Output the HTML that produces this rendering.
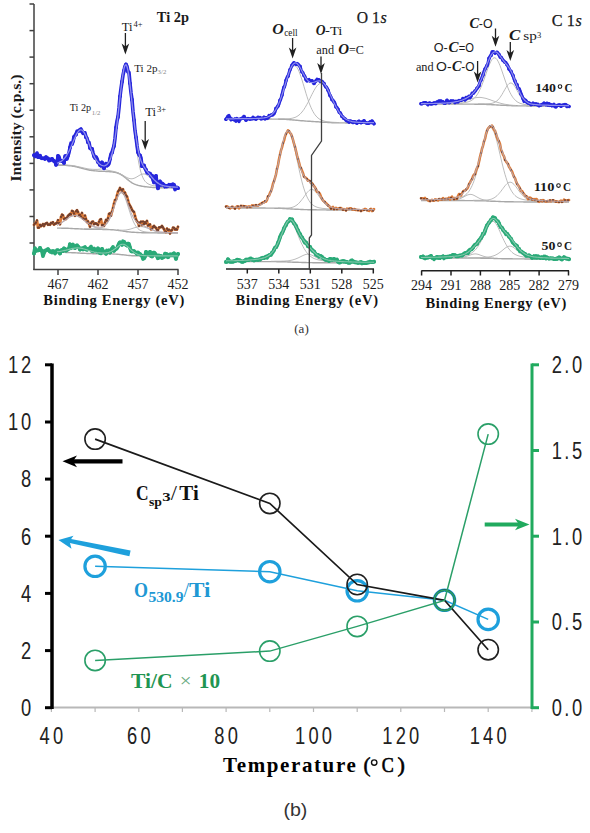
<!DOCTYPE html>
<html><head><meta charset="utf-8"><style>
html,body{margin:0;padding:0;background:#fff;width:590px;height:833px;overflow:hidden}
svg{display:block}

</style></head><body>
<svg width="590" height="833" viewBox="0 0 590 833" font-family="Liberation Serif">
<g stroke="#404040" stroke-width="1.5" fill="none">
<line x1="34" y1="4" x2="34" y2="270"/>
<line x1="29.5" y1="4" x2="34" y2="4"/>
<line x1="29.5" y1="30.6" x2="34" y2="30.6"/>
<line x1="29.5" y1="57.1" x2="34" y2="57.1"/>
<line x1="29.5" y1="83.7" x2="34" y2="83.7"/>
<line x1="29.5" y1="110.2" x2="34" y2="110.2"/>
<line x1="29.5" y1="136.8" x2="34" y2="136.8"/>
<line x1="29.5" y1="163.4" x2="34" y2="163.4"/>
<line x1="29.5" y1="189.9" x2="34" y2="189.9"/>
<line x1="29.5" y1="216.5" x2="34" y2="216.5"/>
<line x1="29.5" y1="243" x2="34" y2="243"/>
<line x1="33.3" y1="269.5" x2="178.5" y2="269.5"/>
<line x1="58" y1="269.5" x2="58" y2="275"/>
<line x1="98" y1="269.5" x2="98" y2="275"/>
<line x1="138" y1="269.5" x2="138" y2="275"/>
<line x1="178" y1="269.5" x2="178" y2="275"/>
</g>
<polyline fill="none" stroke="#a8a8a8" stroke-width="1.4" points="57,165.2 58,165.2 59,165.2 60,165.2 61,165.2 62,165.3 63,165.3 64,165.3 65,165.4 66,165.4 67,165.5 68,165.6 69,165.7 70,165.8 71,165.9 72,166 73,166.2 74,166.3 75,166.5 76,166.7 77,167 78,167.2 79,167.5 80,167.7 81,168 82,168.3 83,168.5 84,168.8 85,169.1 86,169.3 87,169.6 88,169.8 89,170 90,170.2 91,170.3 92,170.5 93,170.6 94,170.7 95,170.9 96,170.9 97,171 98,171.1 99,171.2 100,171.2 101,171.3 102,171.3 103,171.4 104,171.4 105,171.4 106,171.5 107,171.5 108,171.6 109,171.6 110,171.7 111,171.8 112,171.9 113,172 114,172.2 115,172.4 116,172.6 117,172.9 118,173.3 119,173.7 120,174.2 121,174.7 122,175.3 123,176 124,176.7 125,177.5 126,178.3 127,179.1 128,179.9 129,180.7 130,181.5 131,182.1 132,182.8 133,183.4 134,183.9 135,184.3 136,184.7 137,185 138,185.3 139,185.6 140,185.8 141,186 142,186.2 143,186.4 144,186.5 145,186.7 146,186.8 147,186.9 148,187 149,187.1 150,187.2 151,187.3 152,187.4 153,187.5 154,187.5 155,187.6 156,187.6 157,187.7 158,187.7 159,187.8 160,187.8 161,187.8 162,187.8 163,187.9 164,187.9 165,187.9 166,187.9 167,187.9 168,187.9 169,187.9 170,187.9 171,187.9 172,188 173,188 174,188 175,188 176,188 177,188 178,188"/>
<polyline fill="none" stroke="#b4b4b4" stroke-width="0.9" points="57,163.4 58,163.1 59,162.8 60,162.3 61,161.7 62,161 63,160.2 64,159.2 65,158.1 66,156.7 67,155.2 68,153.5 69,151.5 70,149.5 71,147.3 72,145 73,142.6 74,140.3 75,138 76,135.9 77,134 78,132.5 79,131.4 80,130.7 81,130.5 82,130.9 83,131.8 84,133.2 85,135 86,137.2 87,139.6 88,142.2 89,144.9 90,147.6 91,150.3 92,152.8 93,155.2 94,157.5 95,159.5 96,161.3 97,162.9 98,164.3 99,165.5 100,166.5 101,167.4 102,168.1 103,168.6 104,169.1 105,169.5 106,169.8 107,170.1 108,170.3 109,170.5 110,170.7 111,170.9 112,171.1 113,171.3 114,171.5 115,171.7 116,172 117,172.3 118,172.7 119,173.2 120,173.7 121,174.2 122,174.9 123,175.6 124,176.3 125,177.1 126,177.9 127,178.8 128,179.6 129,180.4 130,181.1 131,181.8"/>
<polyline fill="none" stroke="#b4b4b4" stroke-width="0.9" points="57,164.8 58,164.9 59,164.9 60,164.9 61,164.9 62,164.9 63,164.9 64,164.9 65,165 66,165 67,165.1 68,165.1 69,165.2 70,165.3 71,165.4 72,165.5 73,165.7 74,165.8 75,166 76,166.2 77,166.4 78,166.6 79,166.8 80,167 81,167.3 82,167.5 83,167.8 84,168 85,168.2 86,168.4 87,168.6 88,168.8 89,169 90,169.1 91,169.2 92,169.3 93,169.3 94,169.4 95,169.4 96,169.4 97,169.4 98,169.3 99,169.3 100,169.1 101,169 102,168.8 103,168.5 104,168.1 105,167.6 106,167 107,166 108,164.8 109,163.2 110,161 111,158.3 112,154.8 113,150.5 114,145.4 115,139.3 116,132.4 117,124.6 118,116.1 119,107.3 120,98.3 121,89.6 122,81.6 123,74.8 124,69.7 125,66.8 126,66.3 127,68.4 128,72.9 129,79.5 130,87.7 131,97 132,106.9 133,116.9 134,126.7 135,136 136,144.5 137,152 138,158.6 139,164.1 140,168.7 141,172.5 142,175.5 143,177.9 144,179.8 145,181.2 146,182.3 147,183.1 148,183.8 149,184.3 150,184.7 151,185.1 152,185.3 153,185.6 154,185.8 155,185.9 156,186.1 157,186.2 158,186.4 159,186.5 160,186.6 161,186.7 162,186.7 163,186.8 164,186.9 165,187 166,187 167,187.1 168,187.1 169,187.2 170,187.2 171,187.2 172,187.3 173,187.3 174,187.3 175,187.4 176,187.4 177,187.4 178,187.5"/>
<polyline fill="none" stroke="#b4b4b4" stroke-width="0.9" points="118,172.9 119,173.3 120,173.7 121,174.2 122,174.7 123,175.3 124,175.9 125,176.5 126,177 127,177.6 128,178 129,178.4 130,178.6 131,178.8 132,178.8 133,178.6 134,178.3 135,177.9 136,177.4 137,176.8 138,176.2 139,175.6 140,175 141,174.5 142,174.2 143,174 144,173.9 145,174.1 146,174.5 147,175.1 148,175.8 149,176.6 150,177.6 151,178.5 152,179.5 153,180.5 154,181.5 155,182.4 156,183.2 157,183.9 158,184.6 159,185.2 160,185.7 161,186.1 162,186.4 163,186.7 164,186.9 165,187.1 166,187.2 167,187.4 168,187.4 169,187.5 170,187.6 171,187.6"/>
<polyline fill="none" stroke="#2626dc" stroke-width="3.6" stroke-linejoin="round" stroke-linecap="round" points="34,155.2 35,156.5 36,155.3 37,153 38,157.1 39,157.1 40,155.7 41,157.9 42,158.3 43,158.3 44,158.3 45,159.1 46,157.2 47,158.1 48,158.5 49,160.7 50,160.3 51,159.4 52,158.8 53,160.1 54,161 55,161.5 56,164.8 57,163.4 58,155.9 59,156.7 60,160.5 61,160.5 62,161 63,161.3 64,162.9 65,156.1 66,155.9 67,159.1 68,155.6 69,152.5 70,147.5 71,143.1 72,144.1 73,141.8 74,136.9 75,135.4 76,134.4 77,131.3 78,131.2 79,130.8 80,129.8 81,129 82,131.5 83,133.3 84,133 85,132.9 86,137.2 87,138.3 88,142.3 89,142.4 90,147.9 91,148.9 92,148.8 93,152.7 94,156.1 95,158.1 96,157.2 97,158.5 98,162.1 99,162.7 100,165 101,165.9 102,162.4 103,166 104,168.3 105,165.2 106,163.7 107,165.8 108,164.7 109,163.7 110,158.9 111,153.9 112,152.7 113,148.9 114,146 115,138.4 116,127.6 117,120.9 118,116.9 119,107.9 120,96.3 121,88.5 122,81.7 123,75.2 124,70.6 125,66.2 126,64.5 127,66.4 128,71.7 129,72.5 130,83.3 131,92.7 132,99.7 133,111.7 134,120.1 135,130.8 136,137.3 137,145.4 138,152.2 139,154.8 140,155.4 141,158 142,166.2 143,165.5 144,165.5 145,168.4 146,169.8 147,172.8 148,172.8 149,173.4 150,173.6 151,176.3 152,175.7 153,180.1 154,182.4 155,177 156,175.9 157,183.7 158,188.3 159,182.2 160,181.5 161,185.1 162,183.5 163,183.9 164,185.1 165,186.8 166,185.8 167,186.7 168,185.9 169,184.7 170,185.3 171,184.7 172,186 173,184.1 174,184.9 175,189.6 176,187.6 177,187.2 178,188.2"/>
<g fill="#2626dc"><circle cx="34" cy="155.2" r="1.9"/><circle cx="36" cy="155.3" r="1.9"/><circle cx="38" cy="157.1" r="1.9"/><circle cx="40" cy="155.7" r="1.9"/><circle cx="42" cy="158.3" r="1.9"/><circle cx="44" cy="158.3" r="1.9"/><circle cx="46" cy="157.2" r="1.9"/><circle cx="48" cy="158.5" r="1.9"/><circle cx="50" cy="160.3" r="1.9"/><circle cx="52" cy="158.8" r="1.9"/><circle cx="54" cy="161" r="1.9"/><circle cx="56" cy="164.8" r="1.9"/><circle cx="58" cy="155.9" r="1.9"/><circle cx="60" cy="160.5" r="1.9"/><circle cx="62" cy="161" r="1.9"/><circle cx="64" cy="162.9" r="1.9"/><circle cx="66" cy="155.9" r="1.9"/><circle cx="68" cy="155.6" r="1.9"/><circle cx="70" cy="147.5" r="1.9"/><circle cx="72" cy="144.1" r="1.9"/><circle cx="74" cy="136.9" r="1.9"/><circle cx="76" cy="134.4" r="1.9"/><circle cx="78" cy="131.2" r="1.9"/><circle cx="80" cy="129.8" r="1.9"/><circle cx="82" cy="131.5" r="1.9"/><circle cx="84" cy="133" r="1.9"/><circle cx="86" cy="137.2" r="1.9"/><circle cx="88" cy="142.3" r="1.9"/><circle cx="90" cy="147.9" r="1.9"/><circle cx="92" cy="148.8" r="1.9"/><circle cx="94" cy="156.1" r="1.9"/><circle cx="96" cy="157.2" r="1.9"/><circle cx="98" cy="162.1" r="1.9"/><circle cx="100" cy="165" r="1.9"/><circle cx="102" cy="162.4" r="1.9"/><circle cx="104" cy="168.3" r="1.9"/><circle cx="106" cy="163.7" r="1.9"/><circle cx="108" cy="164.7" r="1.9"/><circle cx="110" cy="158.9" r="1.9"/><circle cx="112" cy="152.7" r="1.9"/><circle cx="114" cy="146" r="1.9"/><circle cx="116" cy="127.6" r="1.9"/><circle cx="118" cy="116.9" r="1.9"/><circle cx="120" cy="96.3" r="1.9"/><circle cx="122" cy="81.7" r="1.9"/><circle cx="124" cy="70.6" r="1.9"/><circle cx="126" cy="64.5" r="1.9"/><circle cx="128" cy="71.7" r="1.9"/><circle cx="130" cy="83.3" r="1.9"/><circle cx="132" cy="99.7" r="1.9"/><circle cx="134" cy="120.1" r="1.9"/><circle cx="136" cy="137.3" r="1.9"/><circle cx="138" cy="152.2" r="1.9"/><circle cx="140" cy="155.4" r="1.9"/><circle cx="142" cy="166.2" r="1.9"/><circle cx="144" cy="165.5" r="1.9"/><circle cx="146" cy="169.8" r="1.9"/><circle cx="148" cy="172.8" r="1.9"/><circle cx="150" cy="173.6" r="1.9"/><circle cx="152" cy="175.7" r="1.9"/><circle cx="154" cy="182.4" r="1.9"/><circle cx="156" cy="175.9" r="1.9"/><circle cx="158" cy="188.3" r="1.9"/><circle cx="160" cy="181.5" r="1.9"/><circle cx="162" cy="183.5" r="1.9"/><circle cx="164" cy="185.1" r="1.9"/><circle cx="166" cy="185.8" r="1.9"/><circle cx="168" cy="185.9" r="1.9"/><circle cx="170" cy="185.3" r="1.9"/><circle cx="172" cy="186" r="1.9"/><circle cx="174" cy="184.9" r="1.9"/><circle cx="176" cy="187.6" r="1.9"/><circle cx="178" cy="188.2" r="1.9"/></g>
<polyline fill="none" stroke="#9a9af0" stroke-width="1.3" opacity="0.9" points="57,163.1 58,162.8 59,162.4 60,161.9 61,161.4 62,160.7 63,159.8 64,158.8 65,157.6 66,156.3 67,154.7 68,153 69,151.1 70,149 71,146.8 72,144.4 73,142.1 74,139.7 75,137.4 76,135.3 77,133.4 78,131.8 79,130.7 80,129.9 81,129.8 82,130.1 83,131 84,132.3 85,134.1 86,136.2 87,138.6 88,141.2 89,143.8 90,146.5 91,149.1 92,151.5 93,153.9 94,156 95,158 96,159.7 97,161.2 98,162.4 99,163.5 100,164.3 101,165 102,165.4 103,165.7 104,165.8 105,165.6 106,165.2 107,164.5 108,163.4 109,161.9 110,159.9 111,157.2 112,153.8 113,149.6 114,144.5 115,138.4 116,131.5 117,123.7 118,115.3 119,106.4 120,97.3 121,88.6 122,80.5 123,73.6 124,68.4 125,65.4 126,64.7 127,66.5 128,70.7 129,76.8 130,84.6 131,93.3 132,102.6 133,111.9 134,120.9 135,129.3 136,136.9 137,143.5 138,149.2 139,153.9 140,157.7 141,160.8 142,163.3 143,165.3 144,167 145,168.4 146,169.8 147,171.1 148,172.4 149,173.6 150,174.9 151,176.1 152,177.3 153,178.5 154,179.6 155,180.6 156,181.5 157,182.4 158,183.1 159,183.8 160,184.3 161,184.8 162,185.2 163,185.5 164,185.8 165,186.1 166,186.2 167,186.4 168,186.5 169,186.6 170,186.7 171,186.8 172,186.9 173,187 174,187 175,187.1 176,187.1 177,187.2 178,187.2"/>
<polyline fill="none" stroke="#a8a8a8" stroke-width="1.4" points="57,228.1 58,228.1 59,228.1 60,228.1 61,228.1 62,228.2 63,228.2 64,228.2 65,228.2 66,228.3 67,228.3 68,228.3 69,228.4 70,228.4 71,228.5 72,228.5 73,228.6 74,228.6 75,228.7 76,228.7 77,228.8 78,228.8 79,228.9 80,228.9 81,229 82,229 83,229.1 84,229.1 85,229.2 86,229.2 87,229.2 88,229.3 89,229.3 90,229.3 91,229.3 92,229.3 93,229.4 94,229.4 95,229.4 96,229.4 97,229.4 98,229.4 99,229.4 100,229.4 101,229.4 102,229.4 103,229.5 104,229.5 105,229.5 106,229.5 107,229.5 108,229.5 109,229.6 110,229.6 111,229.7 112,229.7 113,229.8 114,229.9 115,230 116,230.1 117,230.2 118,230.3 119,230.5 120,230.6 121,230.8 122,230.9 123,231.1 124,231.2 125,231.4 126,231.5 127,231.7 128,231.8 129,231.9 130,232 131,232.1 132,232.2 133,232.3 134,232.3 135,232.4 136,232.4 137,232.5 138,232.5 139,232.6 140,232.6 141,232.6 142,232.7 143,232.7 144,232.7 145,232.7 146,232.8 147,232.8 148,232.8 149,232.8 150,232.9 151,232.9 152,232.9 153,232.9 154,232.9 155,232.9 156,232.9 157,232.9 158,233 159,233 160,233 161,233 162,233 163,233 164,233 165,233 166,233 167,233 168,233 169,233 170,233 171,233 172,233 173,233 174,233 175,233 176,233 177,233 178,233"/>
<polyline fill="none" stroke="#b4b4b4" stroke-width="0.9" points="57,225.3 58,224.8 59,224.3 60,223.8 61,223.2 62,222.5 63,221.8 64,221.1 65,220.4 66,219.7 67,219 68,218.3 69,217.6 70,217 71,216.5 72,216.1 73,215.9 74,215.7 75,215.7 76,215.8 77,216.1 78,216.5 79,217 80,217.5 81,218.2 82,219 83,219.7 84,220.5 85,221.3 86,222.1 87,222.9 88,223.6 89,224.3 90,225 91,225.6 92,226.1 93,226.6 94,227 95,227.4 96,227.7 97,228 98,228.2 99,228.4 100,228.6 101,228.7 102,228.8 103,228.9 104,229 105,229.1 106,229.1 107,229.2"/>
<polyline fill="none" stroke="#b4b4b4" stroke-width="0.9" points="84,228.8 85,228.8 86,228.9 87,228.9 88,228.9 89,228.9 90,228.9 91,228.9 92,228.9 93,228.8 94,228.8 95,228.8 96,228.7 97,228.6 98,228.5 99,228.4 100,228.2 101,227.9 102,227.6 103,227.1 104,226.5 105,225.7 106,224.7 107,223.5 108,222 109,220.3 110,218.2 111,215.9 112,213.3 113,210.5 114,207.6 115,204.6 116,201.7 117,199 118,196.7 119,194.8 120,193.5 121,192.9 122,193 123,193.9 124,195.5 125,197.7 126,200.4 127,203.3 128,206.5 129,209.6 130,212.7 131,215.7 132,218.4 133,220.8 134,223 135,224.8 136,226.4 137,227.7 138,228.7 139,229.6 140,230.2 141,230.7 142,231.1 143,231.4 144,231.7 145,231.8 146,232 147,232.1 148,232.2 149,232.3 150,232.3 151,232.4 152,232.4 153,232.5 154,232.5 155,232.6 156,232.6 157,232.6 158,232.6 159,232.7"/>
<polyline fill="none" stroke="#b4b4b4" stroke-width="0.9" points="117,229.9 118,230 119,230 120,230.1 121,230.1 122,230.2 123,230.2 124,230.1 125,230.1 126,230 127,229.8 128,229.6 129,229.4 130,229.2 131,228.9 132,228.6 133,228.2 134,227.9 135,227.6 136,227.3 137,227.1 138,226.9 139,226.7 140,226.6 141,226.6 142,226.7 143,226.8 144,227.1 145,227.3 146,227.7 147,228 148,228.4 149,228.8 150,229.2 151,229.6 152,230 153,230.4 154,230.8 155,231.1 156,231.4 157,231.6 158,231.8 159,232 160,232.2 161,232.3 162,232.4 163,232.5 164,232.6 165,232.7"/>
<polyline fill="none" stroke="#dc7a38" stroke-width="2.8" stroke-linejoin="round" stroke-linecap="round" points="34,224.9 35,223.6 36,222.7 37,220.5 38,227.7 39,227.6 40,224.9 41,226.2 42,225.3 43,224.1 44,226.1 45,224.2 46,223.4 47,222.9 48,224.8 49,224.4 50,224.8 51,223 52,223.3 53,222.2 54,224.6 55,223.8 56,223.5 57,222.7 58,220.2 59,223.2 60,224.3 61,217 62,214.7 63,215.4 64,219.1 65,218.3 66,219 67,217.7 68,215.9 69,215 70,214 71,214.5 72,210.9 73,211.4 74,213.5 75,215.8 76,211.4 77,210.2 78,212 79,215.3 80,214.8 81,216.6 82,213 83,218.3 84,219.1 85,215.7 86,219 87,222 88,221.3 89,223.9 90,226.7 91,223.5 92,221.8 93,221.6 94,224.2 95,223.5 96,223.5 97,224.1 98,225 99,221.8 100,219.8 101,219.2 102,225.2 103,224.8 104,225.9 105,222.5 106,220 107,220.7 108,218.2 109,214 110,213.3 111,215.8 112,211.6 113,208 114,203.6 115,200.1 116,199.7 117,195.4 118,191.6 119,190.2 120,188 121,189.6 122,191.1 123,189.3 124,193.5 125,192.6 126,195.4 127,196.7 128,200.4 129,203.9 130,205.7 131,207.5 132,209.7 133,211.2 134,212 135,216 136,219.3 137,221.4 138,222.7 139,225.9 140,222.7 141,221.7 142,225.1 143,221.7 144,224 145,222.1 146,223.3 147,221 148,225.6 149,224.9 150,224.4 151,229.3 152,228.8 153,227 154,225.9 155,227.2 156,227.9 157,229.9 158,230.1 159,227.5 160,227.3 161,227.2 162,226 163,227.5 164,229.2 165,231.3 166,232 167,228.7 168,230.1 169,229.8 170,233.5 171,230.6 172,230.2 173,227.7 174,227.8 175,229.6 176,229.2 177,229.6 178,226.8"/>
<g fill="#704030"><circle cx="34" cy="224.9" r="1.15"/><circle cx="35" cy="223.6" r="1.15"/><circle cx="36" cy="222.7" r="1.15"/><circle cx="37" cy="220.5" r="1.15"/><circle cx="38" cy="227.7" r="1.15"/><circle cx="39" cy="227.6" r="1.15"/><circle cx="40" cy="224.9" r="1.15"/><circle cx="41" cy="226.2" r="1.15"/><circle cx="42" cy="225.3" r="1.15"/><circle cx="43" cy="224.1" r="1.15"/><circle cx="44" cy="226.1" r="1.15"/><circle cx="45" cy="224.2" r="1.15"/><circle cx="46" cy="223.4" r="1.15"/><circle cx="47" cy="222.9" r="1.15"/><circle cx="48" cy="224.8" r="1.15"/><circle cx="49" cy="224.4" r="1.15"/><circle cx="50" cy="224.8" r="1.15"/><circle cx="51" cy="223" r="1.15"/><circle cx="52" cy="223.3" r="1.15"/><circle cx="53" cy="222.2" r="1.15"/><circle cx="54" cy="224.6" r="1.15"/><circle cx="55" cy="223.8" r="1.15"/><circle cx="56" cy="223.5" r="1.15"/><circle cx="57" cy="222.7" r="1.15"/><circle cx="58" cy="220.2" r="1.15"/><circle cx="59" cy="223.2" r="1.15"/><circle cx="60" cy="224.3" r="1.15"/><circle cx="61" cy="217" r="1.15"/><circle cx="62" cy="214.7" r="1.15"/><circle cx="63" cy="215.4" r="1.15"/><circle cx="64" cy="219.1" r="1.15"/><circle cx="65" cy="218.3" r="1.15"/><circle cx="66" cy="219" r="1.15"/><circle cx="67" cy="217.7" r="1.15"/><circle cx="68" cy="215.9" r="1.15"/><circle cx="69" cy="215" r="1.15"/><circle cx="70" cy="214" r="1.15"/><circle cx="71" cy="214.5" r="1.15"/><circle cx="72" cy="210.9" r="1.15"/><circle cx="73" cy="211.4" r="1.15"/><circle cx="74" cy="213.5" r="1.15"/><circle cx="75" cy="215.8" r="1.15"/><circle cx="76" cy="211.4" r="1.15"/><circle cx="77" cy="210.2" r="1.15"/><circle cx="78" cy="212" r="1.15"/><circle cx="79" cy="215.3" r="1.15"/><circle cx="80" cy="214.8" r="1.15"/><circle cx="81" cy="216.6" r="1.15"/><circle cx="82" cy="213" r="1.15"/><circle cx="83" cy="218.3" r="1.15"/><circle cx="84" cy="219.1" r="1.15"/><circle cx="85" cy="215.7" r="1.15"/><circle cx="86" cy="219" r="1.15"/><circle cx="87" cy="222" r="1.15"/><circle cx="88" cy="221.3" r="1.15"/><circle cx="89" cy="223.9" r="1.15"/><circle cx="90" cy="226.7" r="1.15"/><circle cx="91" cy="223.5" r="1.15"/><circle cx="92" cy="221.8" r="1.15"/><circle cx="93" cy="221.6" r="1.15"/><circle cx="94" cy="224.2" r="1.15"/><circle cx="95" cy="223.5" r="1.15"/><circle cx="96" cy="223.5" r="1.15"/><circle cx="97" cy="224.1" r="1.15"/><circle cx="98" cy="225" r="1.15"/><circle cx="99" cy="221.8" r="1.15"/><circle cx="100" cy="219.8" r="1.15"/><circle cx="101" cy="219.2" r="1.15"/><circle cx="102" cy="225.2" r="1.15"/><circle cx="103" cy="224.8" r="1.15"/><circle cx="104" cy="225.9" r="1.15"/><circle cx="105" cy="222.5" r="1.15"/><circle cx="106" cy="220" r="1.15"/><circle cx="107" cy="220.7" r="1.15"/><circle cx="108" cy="218.2" r="1.15"/><circle cx="109" cy="214" r="1.15"/><circle cx="110" cy="213.3" r="1.15"/><circle cx="111" cy="215.8" r="1.15"/><circle cx="112" cy="211.6" r="1.15"/><circle cx="113" cy="208" r="1.15"/><circle cx="114" cy="203.6" r="1.15"/><circle cx="115" cy="200.1" r="1.15"/><circle cx="116" cy="199.7" r="1.15"/><circle cx="117" cy="195.4" r="1.15"/><circle cx="118" cy="191.6" r="1.15"/><circle cx="119" cy="190.2" r="1.15"/><circle cx="120" cy="188" r="1.15"/><circle cx="121" cy="189.6" r="1.15"/><circle cx="122" cy="191.1" r="1.15"/><circle cx="123" cy="189.3" r="1.15"/><circle cx="124" cy="193.5" r="1.15"/><circle cx="125" cy="192.6" r="1.15"/><circle cx="126" cy="195.4" r="1.15"/><circle cx="127" cy="196.7" r="1.15"/><circle cx="128" cy="200.4" r="1.15"/><circle cx="129" cy="203.9" r="1.15"/><circle cx="130" cy="205.7" r="1.15"/><circle cx="131" cy="207.5" r="1.15"/><circle cx="132" cy="209.7" r="1.15"/><circle cx="133" cy="211.2" r="1.15"/><circle cx="134" cy="212" r="1.15"/><circle cx="135" cy="216" r="1.15"/><circle cx="136" cy="219.3" r="1.15"/><circle cx="137" cy="221.4" r="1.15"/><circle cx="138" cy="222.7" r="1.15"/><circle cx="139" cy="225.9" r="1.15"/><circle cx="140" cy="222.7" r="1.15"/><circle cx="141" cy="221.7" r="1.15"/><circle cx="142" cy="225.1" r="1.15"/><circle cx="143" cy="221.7" r="1.15"/><circle cx="144" cy="224" r="1.15"/><circle cx="145" cy="222.1" r="1.15"/><circle cx="146" cy="223.3" r="1.15"/><circle cx="147" cy="221" r="1.15"/><circle cx="148" cy="225.6" r="1.15"/><circle cx="149" cy="224.9" r="1.15"/><circle cx="150" cy="224.4" r="1.15"/><circle cx="151" cy="229.3" r="1.15"/><circle cx="152" cy="228.8" r="1.15"/><circle cx="153" cy="227" r="1.15"/><circle cx="154" cy="225.9" r="1.15"/><circle cx="155" cy="227.2" r="1.15"/><circle cx="156" cy="227.9" r="1.15"/><circle cx="157" cy="229.9" r="1.15"/><circle cx="158" cy="230.1" r="1.15"/><circle cx="159" cy="227.5" r="1.15"/><circle cx="160" cy="227.3" r="1.15"/><circle cx="161" cy="227.2" r="1.15"/><circle cx="162" cy="226" r="1.15"/><circle cx="163" cy="227.5" r="1.15"/><circle cx="164" cy="229.2" r="1.15"/><circle cx="165" cy="231.3" r="1.15"/><circle cx="166" cy="232" r="1.15"/><circle cx="167" cy="228.7" r="1.15"/><circle cx="168" cy="230.1" r="1.15"/><circle cx="169" cy="229.8" r="1.15"/><circle cx="170" cy="233.5" r="1.15"/><circle cx="171" cy="230.6" r="1.15"/><circle cx="172" cy="230.2" r="1.15"/><circle cx="173" cy="227.7" r="1.15"/><circle cx="174" cy="227.8" r="1.15"/><circle cx="175" cy="229.6" r="1.15"/><circle cx="176" cy="229.2" r="1.15"/><circle cx="177" cy="229.6" r="1.15"/><circle cx="178" cy="226.8" r="1.15"/></g>
<polyline fill="none" stroke="#b8a8b0" stroke-width="1.1" opacity="0.9" points="57,225.2 58,224.7 59,224.2 60,223.6 61,223 62,222.4 63,221.7 64,221 65,220.2 66,219.5 67,218.8 68,218.1 69,217.4 70,216.8 71,216.3 72,215.9 73,215.6 74,215.5 75,215.5 76,215.6 77,215.8 78,216.2 79,216.7 80,217.3 81,217.9 82,218.7 83,219.4 84,220.2 85,221 86,221.7 87,222.5 88,223.2 89,223.9 90,224.5 91,225.1 92,225.6 93,226 94,226.4 95,226.7 96,226.9 97,227.1 98,227.3 99,227.3 100,227.3 101,227.1 102,226.9 103,226.5 104,226 105,225.2 106,224.3 107,223.1 108,221.6 109,219.9 110,217.9 111,215.5 112,213 113,210.2 114,207.2 115,204.2 116,201.3 117,198.6 118,196.1 119,194.2 120,192.8 121,192.1 122,192.1 123,192.9 124,194.3 125,196.3 126,198.7 127,201.4 128,204.2 129,207 130,209.8 131,212.4 132,214.7 133,216.8 134,218.5 135,220 136,221.2 137,222.2 138,223 139,223.7 140,224.2 141,224.7 142,225.1 143,225.5 144,226 145,226.4 146,226.8 147,227.3 148,227.7 149,228.2 150,228.7 151,229.1 152,229.5 153,229.9 154,230.3 155,230.7 156,231 157,231.2 158,231.5 159,231.7 160,231.9 161,232 162,232.1 163,232.3 164,232.3 165,232.4 166,232.5 167,232.5 168,232.6 169,232.6 170,232.6 171,232.7 172,232.7 173,232.7 174,232.7 175,232.7 176,232.7 177,232.8 178,232.8"/>
<polyline fill="none" stroke="#a8a8a8" stroke-width="1.4" points="57,252.3 58,252.4 59,252.4 60,252.4 61,252.4 62,252.4 63,252.4 64,252.4 65,252.4 66,252.5 67,252.5 68,252.5 69,252.6 70,252.6 71,252.6 72,252.7 73,252.7 74,252.8 75,252.8 76,252.9 77,252.9 78,253 79,253 80,253.1 81,253.2 82,253.2 83,253.3 84,253.3 85,253.4 86,253.4 87,253.5 88,253.5 89,253.5 90,253.6 91,253.6 92,253.6 93,253.7 94,253.7 95,253.7 96,253.7 97,253.7 98,253.7 99,253.8 100,253.8 101,253.8 102,253.8 103,253.8 104,253.8 105,253.8 106,253.8 107,253.8 108,253.8 109,253.9 110,253.9 111,253.9 112,253.9 113,254 114,254 115,254.1 116,254.1 117,254.2 118,254.3 119,254.4 120,254.5 121,254.6 122,254.7 123,254.8 124,254.9 125,255 126,255.1 127,255.3 128,255.4 129,255.5 130,255.5 131,255.6 132,255.7 133,255.7 134,255.8 135,255.8 136,255.8 137,255.9 138,255.9 139,255.9 140,255.9 141,255.9 142,255.9 143,255.9 144,256 145,256 146,256 147,256 148,256 149,256 150,256 151,256 152,256 153,256 154,256 155,256 156,256 157,256 158,256 159,256 160,256 161,256 162,256 163,256 164,256 165,256 166,256 167,256 168,256 169,256 170,256 171,256 172,256 173,256 174,256 175,256 176,256 177,256 178,256"/>
<polyline fill="none" stroke="#b4b4b4" stroke-width="0.9" points="57,251.8 58,251.7 59,251.5 60,251.4 61,251.2 62,251.1 63,250.9 64,250.7 65,250.4 66,250.2 67,249.9 68,249.7 69,249.4 70,249.2 71,248.9 72,248.7 73,248.5 74,248.3 75,248.2 76,248.1 77,248 78,248 79,248.1 80,248.2 81,248.3 82,248.5 83,248.8 84,249 85,249.3 86,249.7 87,250 88,250.3 89,250.6 90,251 91,251.3 92,251.6 93,251.8 94,252.1 95,252.3 96,252.5 97,252.7 98,252.9 99,253 100,253.2 101,253.3 102,253.3 103,253.4 104,253.5"/>
<polyline fill="none" stroke="#b4b4b4" stroke-width="0.9" points="102,253.5 103,253.4 104,253.3 105,253.2 106,253.1 107,252.9 108,252.7 109,252.3 110,252 111,251.5 112,250.9 113,250.3 114,249.6 115,248.9 116,248.1 117,247.2 118,246.5 119,245.7 120,245.1 121,244.6 122,244.4 123,244.3 124,244.5 125,244.9 126,245.4 127,246.2 128,247 129,248 130,248.9 131,249.9 132,250.8 133,251.7 134,252.4 135,253.1 136,253.7 137,254.1 138,254.5 139,254.8 140,255.1 141,255.3 142,255.4 143,255.5 144,255.6"/>
<polyline fill="none" stroke="#2aaa78" stroke-width="3.8" stroke-linejoin="round" stroke-linecap="round" points="34,253.5 35,248.1 36,250.8 37,250.3 38,250.3 39,250.1 40,248 41,249.9 42,250.9 43,256.1 44,252.5 45,250.6 46,250.4 47,249.7 48,249.2 49,250.3 50,251.6 51,251.2 52,252.4 53,251 54,251.4 55,253.5 56,252 57,250.1 58,250.4 59,251.9 60,253.4 61,250.4 62,249.9 63,251 64,248.5 65,249 66,250.6 67,250.1 68,249.2 69,248.5 70,244.3 71,248.2 72,246 73,244.6 74,247.4 75,248.1 76,246.2 77,245.2 78,246.6 79,247.4 80,249.5 81,248.9 82,248.4 83,249.4 84,247.7 85,247 86,249.4 87,249.9 88,248.8 89,248.4 90,249.1 91,246.6 92,250.9 93,251.2 94,248.6 95,250.4 96,250.2 97,251.7 98,248.5 99,250 100,253.1 101,253.3 102,248.9 103,250.7 104,252.2 105,251.7 106,253.7 107,250.5 108,251.3 109,250.2 110,252.6 111,250.7 112,248.7 113,247 114,250.8 115,249.7 116,248.8 117,248.3 118,246.1 119,243.5 120,242.3 121,242.5 122,244.7 123,241.3 124,241.9 125,243.2 126,244.8 127,245.7 128,243.7 129,243.9 130,247.7 131,251 132,251.4 133,251.1 134,251.1 135,252.3 136,252.6 137,254 138,252.6 139,253.7 140,254.1 141,255.1 142,255.8 143,259 144,258.2 145,256.8 146,251.9 147,253.3 148,253.9 149,254.6 150,251.9 151,256.2 152,256.4 153,252.9 154,252.6 155,253.3 156,254.9 157,256.5 158,258.2 159,255.5 160,256.1 161,256 162,257.9 163,257.1 164,256.9 165,253.6 166,254 167,254.1 168,257.2 169,256.3 170,254.5 171,254.3 172,255.3 173,253.7 174,253.4 175,256.2 176,258.8 177,255.2 178,254"/>
<g fill="#2aaa78"><circle cx="34" cy="253.5" r="1.9"/><circle cx="36" cy="250.8" r="1.9"/><circle cx="38" cy="250.3" r="1.9"/><circle cx="40" cy="248" r="1.9"/><circle cx="42" cy="250.9" r="1.9"/><circle cx="44" cy="252.5" r="1.9"/><circle cx="46" cy="250.4" r="1.9"/><circle cx="48" cy="249.2" r="1.9"/><circle cx="50" cy="251.6" r="1.9"/><circle cx="52" cy="252.4" r="1.9"/><circle cx="54" cy="251.4" r="1.9"/><circle cx="56" cy="252" r="1.9"/><circle cx="58" cy="250.4" r="1.9"/><circle cx="60" cy="253.4" r="1.9"/><circle cx="62" cy="249.9" r="1.9"/><circle cx="64" cy="248.5" r="1.9"/><circle cx="66" cy="250.6" r="1.9"/><circle cx="68" cy="249.2" r="1.9"/><circle cx="70" cy="244.3" r="1.9"/><circle cx="72" cy="246" r="1.9"/><circle cx="74" cy="247.4" r="1.9"/><circle cx="76" cy="246.2" r="1.9"/><circle cx="78" cy="246.6" r="1.9"/><circle cx="80" cy="249.5" r="1.9"/><circle cx="82" cy="248.4" r="1.9"/><circle cx="84" cy="247.7" r="1.9"/><circle cx="86" cy="249.4" r="1.9"/><circle cx="88" cy="248.8" r="1.9"/><circle cx="90" cy="249.1" r="1.9"/><circle cx="92" cy="250.9" r="1.9"/><circle cx="94" cy="248.6" r="1.9"/><circle cx="96" cy="250.2" r="1.9"/><circle cx="98" cy="248.5" r="1.9"/><circle cx="100" cy="253.1" r="1.9"/><circle cx="102" cy="248.9" r="1.9"/><circle cx="104" cy="252.2" r="1.9"/><circle cx="106" cy="253.7" r="1.9"/><circle cx="108" cy="251.3" r="1.9"/><circle cx="110" cy="252.6" r="1.9"/><circle cx="112" cy="248.7" r="1.9"/><circle cx="114" cy="250.8" r="1.9"/><circle cx="116" cy="248.8" r="1.9"/><circle cx="118" cy="246.1" r="1.9"/><circle cx="120" cy="242.3" r="1.9"/><circle cx="122" cy="244.7" r="1.9"/><circle cx="124" cy="241.9" r="1.9"/><circle cx="126" cy="244.8" r="1.9"/><circle cx="128" cy="243.7" r="1.9"/><circle cx="130" cy="247.7" r="1.9"/><circle cx="132" cy="251.4" r="1.9"/><circle cx="134" cy="251.1" r="1.9"/><circle cx="136" cy="252.6" r="1.9"/><circle cx="138" cy="252.6" r="1.9"/><circle cx="140" cy="254.1" r="1.9"/><circle cx="142" cy="255.8" r="1.9"/><circle cx="144" cy="258.2" r="1.9"/><circle cx="146" cy="251.9" r="1.9"/><circle cx="148" cy="253.9" r="1.9"/><circle cx="150" cy="251.9" r="1.9"/><circle cx="152" cy="256.4" r="1.9"/><circle cx="154" cy="252.6" r="1.9"/><circle cx="156" cy="254.9" r="1.9"/><circle cx="158" cy="258.2" r="1.9"/><circle cx="160" cy="256.1" r="1.9"/><circle cx="162" cy="257.9" r="1.9"/><circle cx="164" cy="256.9" r="1.9"/><circle cx="166" cy="254" r="1.9"/><circle cx="168" cy="257.2" r="1.9"/><circle cx="170" cy="254.5" r="1.9"/><circle cx="172" cy="255.3" r="1.9"/><circle cx="174" cy="253.4" r="1.9"/><circle cx="176" cy="258.8" r="1.9"/><circle cx="178" cy="254" r="1.9"/></g>
<polyline fill="none" stroke="#8ccab0" stroke-width="1.1" opacity="0.9" points="57,251.7 58,251.6 59,251.5 60,251.4 61,251.2 62,251 63,250.8 64,250.6 65,250.4 66,250.2 67,249.9 68,249.7 69,249.4 70,249.1 71,248.9 72,248.6 73,248.4 74,248.3 75,248.1 76,248 77,247.9 78,247.9 79,248 80,248.1 81,248.2 82,248.4 83,248.7 84,249 85,249.3 86,249.6 87,249.9 88,250.2 89,250.6 90,250.9 91,251.2 92,251.5 93,251.7 94,252 95,252.2 96,252.4 97,252.6 98,252.7 99,252.8 100,252.9 101,253 102,253 103,253.1 104,253 105,253 106,252.9 107,252.7 108,252.5 109,252.2 110,251.8 111,251.4 112,250.8 113,250.2 114,249.5 115,248.8 116,248 117,247.2 118,246.4 119,245.7 120,245.1 121,244.6 122,244.3 123,244.2 124,244.4 125,244.8 126,245.4 127,246.1 128,247 129,247.9 130,248.9 131,249.9 132,250.8 133,251.6 134,252.4 135,253 136,253.6 137,254.1 138,254.5 139,254.8 140,255.1 141,255.2 142,255.4 143,255.5 144,255.6 145,255.6 146,255.7 147,255.7 148,255.8 149,255.8 150,255.8 151,255.8 152,255.8 153,255.8 154,255.8 155,255.9 156,255.9 157,255.9 158,255.9 159,255.9 160,255.9 161,255.9 162,255.9 163,255.9 164,255.9 165,255.9 166,255.9 167,255.9 168,255.9 169,255.9 170,255.9 171,255.9 172,255.9 173,255.9 174,255.9 175,255.9 176,255.9 177,255.9 178,256"/>
<g stroke="#202020" stroke-width="1.5" fill="none">
<line x1="226" y1="269" x2="374" y2="269"/>
<line x1="247.3" y1="269" x2="247.3" y2="273.5"/>
<line x1="278.8" y1="269" x2="278.8" y2="273.5"/>
<line x1="310.3" y1="269" x2="310.3" y2="273.5"/>
<line x1="341.8" y1="269" x2="341.8" y2="273.5"/>
<line x1="373.3" y1="269" x2="373.3" y2="273.5"/>
</g>
<polyline fill="none" stroke="#a8a8a8" stroke-width="1.4" points="226,119 227,119 228,119 229,119 230,119 231,119 232,119 233,119 234,119 235,119 236,119 237,119 238,119 239,119 240,119 241,119 242,119 243,119 244,119 245,119 246,119 247,119 248,119 249,119 250,119 251,119 252,119 253,119 254,119 255,119 256,119 257,119 258,119 259,119 260,119 261,119 262,119 263,119 264,119 265,119 266,119 267,119 268,119 269,119 270,119 271,119 272,119.1 273,119.1 274,119.1 275,119.1 276,119.1 277,119.1 278,119.1 279,119.2 280,119.2 281,119.2 282,119.2 283,119.3 284,119.3 285,119.4 286,119.4 287,119.5 288,119.6 289,119.6 290,119.7 291,119.8 292,119.9 293,120 294,120 295,120.1 296,120.2 297,120.3 298,120.4 299,120.5 300,120.6 301,120.7 302,120.8 303,120.8 304,120.9 305,121 306,121.1 307,121.1 308,121.2 309,121.3 310,121.3 311,121.4 312,121.5 313,121.5 314,121.6 315,121.6 316,121.7 317,121.8 318,121.8 319,121.9 320,122 321,122 322,122.1 323,122.2 324,122.2 325,122.3 326,122.4 327,122.4 328,122.5 329,122.5 330,122.6 331,122.6 332,122.7 333,122.7 334,122.7 335,122.8 336,122.8 337,122.8 338,122.8 339,122.9 340,122.9 341,122.9 342,122.9 343,122.9 344,122.9 345,122.9 346,123 347,123 348,123 349,123 350,123 351,123 352,123 353,123 354,123 355,123 356,123 357,123 358,123 359,123 360,123 361,123 362,123 363,123 364,123 365,123 366,123 367,123 368,123 369,123 370,123 371,123 372,123 373,123 374,123"/>
<polyline fill="none" stroke="#b4b4b4" stroke-width="0.9" points="250,118.7 251,118.7 252,118.7 253,118.7 254,118.6 255,118.6 256,118.6 257,118.6 258,118.5 259,118.5 260,118.4 261,118.4 262,118.3 263,118.2 264,118 265,117.9 266,117.6 267,117.4 268,117 269,116.6 270,116 271,115.4 272,114.6 273,113.6 274,112.5 275,111.1 276,109.5 277,107.7 278,105.7 279,103.4 280,100.9 281,98.2 282,95.3 283,92.2 284,89 285,85.8 286,82.5 287,79.4 288,76.3 289,73.5 290,71.1 291,69 292,67.3 293,66.2 294,65.7 295,65.7 296,66.3 297,67.5 298,69.2 299,71.4 300,74 301,76.9 302,80 303,83.3 304,86.7 305,90 306,93.4 307,96.6 308,99.6 309,102.5 310,105.1 311,107.5 312,109.7 313,111.6 314,113.3 315,114.8 316,116 317,117.1 318,118 319,118.8 320,119.4 321,119.9 322,120.4 323,120.7 324,121 325,121.3 326,121.5 327,121.7 328,121.8 329,121.9 330,122 331,122.1 332,122.2 333,122.3 334,122.3 335,122.4 336,122.4 337,122.5 338,122.5 339,122.6"/>
<polyline fill="none" stroke="#b4b4b4" stroke-width="0.9" points="278,118.8 279,118.8 280,118.8 281,118.8 282,118.8 283,118.8 284,118.8 285,118.8 286,118.8 287,118.8 288,118.7 289,118.7 290,118.6 291,118.4 292,118.3 293,118 294,117.7 295,117.4 296,117 297,116.4 298,115.8 299,115 300,114.2 301,113.1 302,112 303,110.7 304,109.3 305,107.7 306,106 307,104.2 308,102.4 309,100.4 310,98.4 311,96.3 312,94.3 313,92.4 314,90.5 315,88.8 316,87.2 317,85.9 318,84.8 319,84 320,83.5 321,83.3 322,83.5 323,84 324,84.8 325,85.9 326,87.3 327,88.9 328,90.7 329,92.6 330,94.6 331,96.7 332,98.9 333,101 334,103.1 335,105.1 336,107 337,108.9 338,110.6 339,112.2 340,113.6 341,114.9 342,116.1 343,117.1 344,118 345,118.8 346,119.4 347,120 348,120.5 349,120.9 350,121.2 351,121.5 352,121.8 353,121.9 354,122.1 355,122.2 356,122.3 357,122.4 358,122.5 359,122.5 360,122.6 361,122.6 362,122.6 363,122.7 364,122.7"/>
<polyline fill="none" stroke="#2626dc" stroke-width="3.2" stroke-linejoin="round" stroke-linecap="round" points="226,119.3 227,117.7 228,116.4 229,115.5 230,118.1 231,119.9 232,119.2 233,119.5 234,119.7 235,118.7 236,121 237,118.5 238,119.5 239,121.5 240,119.2 241,118.7 242,118.3 243,118.5 244,116.5 245,117.9 246,120.2 247,119.1 248,118.5 249,119 250,119.1 251,118.9 252,118.8 253,117.2 254,118.6 255,118.1 256,119.1 257,118.4 258,117.4 259,117.8 260,117.5 261,119 262,118.5 263,118.6 264,117.3 265,119 266,117.8 267,118.6 268,117.7 269,115.5 270,115.8 271,114.8 272,114.9 273,115 274,113.4 275,111.8 276,108.4 277,107.5 278,106 279,104.1 280,100.3 281,98.4 282,95.1 283,90.2 284,87.3 285,85.2 286,80.6 287,77.4 288,76.2 289,73 290,69.8 291,67.6 292,65.2 293,63.6 294,62.9 295,63.5 296,64.3 297,63.4 298,64.4 299,65.4 300,66.3 301,69.5 302,72 303,72.7 304,75.6 305,76.6 306,79.6 307,81.1 308,80.2 309,79.5 310,81.1 311,80.8 312,80.9 313,82.2 314,83.5 315,82 316,80.9 317,79.2 318,79.7 319,79.5 320,81.1 321,80.8 322,81.6 323,82.5 324,83.6 325,85.9 326,87 327,87.9 328,90.2 329,92.8 330,95.6 331,96.9 332,99.7 333,100.2 334,102 335,103.4 336,107 337,107.5 338,109.2 339,112.3 340,112.8 341,114 342,116.5 343,117 344,118.5 345,118.5 346,120.1 347,121 348,121 349,122.4 350,121 351,121.1 352,121.8 353,122.7 354,121.8 355,121.6 356,122.6 357,123.4 358,121.9 359,121 360,122.2 361,122.9 362,122.1 363,122.1 364,120.8 365,122.2 366,122.8 367,123.3 368,123.2 369,123.3 370,122 371,122.8 372,121.1 373,122 374,123.7"/>
<g fill="#2626dc"><circle cx="226" cy="119.3" r="1.8"/><circle cx="228" cy="116.4" r="1.8"/><circle cx="230" cy="118.1" r="1.8"/><circle cx="232" cy="119.2" r="1.8"/><circle cx="234" cy="119.7" r="1.8"/><circle cx="236" cy="121" r="1.8"/><circle cx="238" cy="119.5" r="1.8"/><circle cx="240" cy="119.2" r="1.8"/><circle cx="242" cy="118.3" r="1.8"/><circle cx="244" cy="116.5" r="1.8"/><circle cx="246" cy="120.2" r="1.8"/><circle cx="248" cy="118.5" r="1.8"/><circle cx="250" cy="119.1" r="1.8"/><circle cx="252" cy="118.8" r="1.8"/><circle cx="254" cy="118.6" r="1.8"/><circle cx="256" cy="119.1" r="1.8"/><circle cx="258" cy="117.4" r="1.8"/><circle cx="260" cy="117.5" r="1.8"/><circle cx="262" cy="118.5" r="1.8"/><circle cx="264" cy="117.3" r="1.8"/><circle cx="266" cy="117.8" r="1.8"/><circle cx="268" cy="117.7" r="1.8"/><circle cx="270" cy="115.8" r="1.8"/><circle cx="272" cy="114.9" r="1.8"/><circle cx="274" cy="113.4" r="1.8"/><circle cx="276" cy="108.4" r="1.8"/><circle cx="278" cy="106" r="1.8"/><circle cx="280" cy="100.3" r="1.8"/><circle cx="282" cy="95.1" r="1.8"/><circle cx="284" cy="87.3" r="1.8"/><circle cx="286" cy="80.6" r="1.8"/><circle cx="288" cy="76.2" r="1.8"/><circle cx="290" cy="69.8" r="1.8"/><circle cx="292" cy="65.2" r="1.8"/><circle cx="294" cy="62.9" r="1.8"/><circle cx="296" cy="64.3" r="1.8"/><circle cx="298" cy="64.4" r="1.8"/><circle cx="300" cy="66.3" r="1.8"/><circle cx="302" cy="72" r="1.8"/><circle cx="304" cy="75.6" r="1.8"/><circle cx="306" cy="79.6" r="1.8"/><circle cx="308" cy="80.2" r="1.8"/><circle cx="310" cy="81.1" r="1.8"/><circle cx="312" cy="80.9" r="1.8"/><circle cx="314" cy="83.5" r="1.8"/><circle cx="316" cy="80.9" r="1.8"/><circle cx="318" cy="79.7" r="1.8"/><circle cx="320" cy="81.1" r="1.8"/><circle cx="322" cy="81.6" r="1.8"/><circle cx="324" cy="83.6" r="1.8"/><circle cx="326" cy="87" r="1.8"/><circle cx="328" cy="90.2" r="1.8"/><circle cx="330" cy="95.6" r="1.8"/><circle cx="332" cy="99.7" r="1.8"/><circle cx="334" cy="102" r="1.8"/><circle cx="336" cy="107" r="1.8"/><circle cx="338" cy="109.2" r="1.8"/><circle cx="340" cy="112.8" r="1.8"/><circle cx="342" cy="116.5" r="1.8"/><circle cx="344" cy="118.5" r="1.8"/><circle cx="346" cy="120.1" r="1.8"/><circle cx="348" cy="121" r="1.8"/><circle cx="350" cy="121" r="1.8"/><circle cx="352" cy="121.8" r="1.8"/><circle cx="354" cy="121.8" r="1.8"/><circle cx="356" cy="122.6" r="1.8"/><circle cx="358" cy="121.9" r="1.8"/><circle cx="360" cy="122.2" r="1.8"/><circle cx="362" cy="122.1" r="1.8"/><circle cx="364" cy="120.8" r="1.8"/><circle cx="366" cy="122.8" r="1.8"/><circle cx="368" cy="123.2" r="1.8"/><circle cx="370" cy="122" r="1.8"/><circle cx="372" cy="121.1" r="1.8"/><circle cx="374" cy="123.7" r="1.8"/></g>
<polyline fill="none" stroke="#9a9af0" stroke-width="1.2" opacity="0.9" points="226,118.8 227,118.8 228,118.8 229,118.8 230,118.8 231,118.8 232,118.8 233,118.8 234,118.8 235,118.7 236,118.7 237,118.7 238,118.7 239,118.7 240,118.7 241,118.7 242,118.7 243,118.7 244,118.7 245,118.7 246,118.6 247,118.6 248,118.6 249,118.6 250,118.6 251,118.6 252,118.6 253,118.5 254,118.5 255,118.5 256,118.5 257,118.4 258,118.4 259,118.3 260,118.3 261,118.2 262,118.1 263,118 264,117.9 265,117.7 266,117.5 267,117.2 268,116.8 269,116.4 270,115.8 271,115.2 272,114.3 273,113.4 274,112.2 275,110.8 276,109.3 277,107.5 278,105.4 279,103.1 280,100.6 281,97.8 282,94.9 283,91.8 284,88.5 285,85.2 286,81.9 287,78.6 288,75.5 289,72.6 290,69.9 291,67.6 292,65.7 293,64.3 294,63.4 295,62.9 296,63 297,63.6 298,64.6 299,65.9 300,67.5 301,69.3 302,71.2 303,73.2 304,75 305,76.8 306,78.4 307,79.7 308,80.8 309,81.6 310,82.2 311,82.5 312,82.6 313,82.5 314,82.2 315,81.9 316,81.5 317,81.2 318,81 319,80.9 320,80.9 321,81.2 322,81.8 323,82.6 324,83.6 325,84.9 326,86.4 327,88.1 328,90 329,92 330,94.1 331,96.2 332,98.4 333,100.6 334,102.7 335,104.7 336,106.7 337,108.5 338,110.3 339,111.8 340,113.3 341,114.6 342,115.8 343,116.8 344,117.7 345,118.5 346,119.2 347,119.8 348,120.3 349,120.7 350,121 351,121.3 352,121.6 353,121.8 354,121.9 355,122.1 356,122.2 357,122.2 358,122.3 359,122.4 360,122.4 361,122.5 362,122.5 363,122.5 364,122.6 365,122.6 366,122.6 367,122.6 368,122.6 369,122.6 370,122.7 371,122.7 372,122.7 373,122.7 374,122.7"/>
<polyline fill="none" stroke="#a8a8a8" stroke-width="1.4" points="226,208 227,208 228,208 229,208 230,208 231,208 232,208 233,208 234,208 235,208 236,208 237,208 238,208 239,208 240,208 241,208 242,208 243,208 244,208 245,208 246,208 247,208 248,208 249,208 250,208 251,208 252,208 253,208 254,208 255,208 256,208 257,208 258,208 259,208 260,208 261,208 262,208 263,208 264,208 265,208 266,208.1 267,208.1 268,208.1 269,208.1 270,208.1 271,208.1 272,208.1 273,208.1 274,208.1 275,208.2 276,208.2 277,208.2 278,208.3 279,208.3 280,208.3 281,208.4 282,208.4 283,208.5 284,208.5 285,208.6 286,208.6 287,208.7 288,208.8 289,208.8 290,208.9 291,209 292,209 293,209.1 294,209.1 295,209.2 296,209.3 297,209.3 298,209.3 299,209.4 300,209.4 301,209.5 302,209.5 303,209.5 304,209.6 305,209.6 306,209.6 307,209.6 308,209.7 309,209.7 310,209.7 311,209.7 312,209.8 313,209.8 314,209.8 315,209.8 316,209.8 317,209.9 318,209.9 319,209.9 320,209.9 321,209.9 322,209.9 323,209.9 324,209.9 325,209.9 326,209.9 327,210 328,210 329,210 330,210 331,210 332,210 333,210 334,210 335,210 336,210 337,210 338,210 339,210 340,210 341,210 342,210 343,210 344,210 345,210 346,210 347,210 348,210 349,210 350,210 351,210 352,210 353,210 354,210 355,210 356,210 357,210 358,210 359,210 360,210 361,210 362,210 363,210 364,210 365,210 366,210 367,210 368,210 369,210 370,210 371,210 372,210 373,210 374,210"/>
<polyline fill="none" stroke="#b4b4b4" stroke-width="0.9" points="226,207.5 227,207.5 228,207.5 229,207.5 230,207.5 231,207.4 232,207.4 233,207.4 234,207.4 235,207.4 236,207.3 237,207.3 238,207.3 239,207.2 240,207.2 241,207.2 242,207.2 243,207.1 244,207.1 245,207 246,207 247,206.9 248,206.9 249,206.8 250,206.8 251,206.7 252,206.6 253,206.5 254,206.4 255,206.3 256,206.2 257,206 258,205.8 259,205.5 260,205.2 261,204.8 262,204.3 263,203.7 264,202.9 265,202 266,200.9 267,199.6 268,198 269,196.2 270,194 271,191.5 272,188.7 273,185.5 274,182 275,178.2 276,174.1 277,169.7 278,165.1 279,160.4 280,155.7 281,151.1 282,146.7 283,142.6 284,139 285,136 286,133.7 287,132.2 288,131.6 289,131.9 290,133.2 291,135.3 292,138.2 293,141.7 294,145.7 295,150.1 296,154.8 297,159.6 298,164.3 299,169 300,173.6 301,177.9 302,181.9 303,185.6 304,188.9 305,191.9 306,194.6 307,196.9 308,198.9 309,200.6 310,202.1 311,203.3 312,204.3 313,205.1 314,205.8 315,206.4 316,206.8 317,207.2 318,207.5 319,207.8 320,208 321,208.1 322,208.3 323,208.4 324,208.5 325,208.6 326,208.7 327,208.8 328,208.8 329,208.9 330,208.9 331,209 332,209 333,209.1 334,209.1 335,209.1 336,209.2 337,209.2 338,209.2 339,209.3 340,209.3 341,209.3 342,209.3 343,209.4 344,209.4 345,209.4 346,209.4 347,209.4 348,209.5 349,209.5 350,209.5 351,209.5 352,209.5 353,209.5 354,209.6 355,209.6 356,209.6 357,209.6 358,209.6 359,209.6 360,209.6 361,209.6 362,209.6 363,209.7 364,209.7 365,209.7 366,209.7 367,209.7"/>
<polyline fill="none" stroke="#b4b4b4" stroke-width="0.9" points="278,207.9 279,208 280,208 281,208 282,208 283,208 284,208 285,208 286,208 287,208 288,208 289,207.9 290,207.8 291,207.6 292,207.4 293,207.1 294,206.7 295,206.2 296,205.6 297,204.9 298,204.1 299,203.1 300,202 301,200.8 302,199.5 303,198.2 304,196.8 305,195.4 306,194 307,192.7 308,191.6 309,190.6 310,189.9 311,189.5 312,189.5 313,189.7 314,190.3 315,191.1 316,192.2 317,193.4 318,194.8 319,196.2 320,197.7 321,199.1 322,200.5 323,201.8 324,203 325,204.1 326,205 327,205.9 328,206.6 329,207.2 330,207.7 331,208.1 332,208.4 333,208.7 334,208.9 335,209.1 336,209.2 337,209.3 338,209.4 339,209.5 340,209.5 341,209.6 342,209.6 343,209.6 344,209.6 345,209.7 346,209.7"/>
<polyline fill="none" stroke="#dc7a38" stroke-width="2.6" stroke-linejoin="round" stroke-linecap="round" points="226,206.6 227,206.3 228,207.1 229,207.9 230,208.4 231,207.6 232,206.8 233,206.8 234,208 235,208.7 236,207.5 237,206.2 238,206.5 239,208.3 240,207.3 241,205.8 242,206.5 243,206 244,206.2 245,206.4 246,206.4 247,207.2 248,206.8 249,206.4 250,207 251,207 252,205.4 253,205.8 254,205.5 255,205.7 256,205 257,205.7 258,205.6 259,205 260,204.1 261,204 262,203 263,202.3 264,202.5 265,201.2 266,201.6 267,199.8 268,196.4 269,195.7 270,193 271,191.2 272,188.2 273,183.7 274,181.2 275,177.9 276,174.3 277,168.8 278,165 279,159.3 280,154.8 281,150.3 282,147.4 283,143.2 284,140.6 285,136.5 286,133.9 287,132.2 288,130.4 289,131 290,133 291,133.9 292,136.6 293,139.8 294,143.7 295,146.9 296,151 297,155.3 298,159 299,162.3 300,166.5 301,168.2 302,170.6 303,173.2 304,176.6 305,177.4 306,177.9 307,179 308,180.8 309,180.6 310,181.2 311,183.1 312,183.1 313,184.6 314,186.2 315,187.3 316,189.3 317,191.7 318,192 319,192.7 320,194.1 321,196.8 322,198.6 323,200.4 324,201.2 325,202.2 326,203.1 327,204.2 328,205.4 329,205.9 330,207 331,208.7 332,207.9 333,206.9 334,209.2 335,208.6 336,207.9 337,209.1 338,208.7 339,208.2 340,208.1 341,208 342,209 343,209.8 344,209 345,209.7 346,210.4 347,208.6 348,209.1 349,208.9 350,208.2 351,208.3 352,209.2 353,209.6 354,209 355,209.5 356,210 357,209.9 358,210.2 359,210 360,210.2 361,211.1 362,210.3 363,209.8 364,209.9 365,208.9 366,209.3 367,210.2 368,210.5 369,210.9 370,209.6 371,208.8 372,211.1 373,210.6 374,209"/>
<g fill="#704030"><circle cx="226" cy="206.6" r="1.1"/><circle cx="229" cy="207.9" r="1.1"/><circle cx="232" cy="206.8" r="1.1"/><circle cx="235" cy="208.7" r="1.1"/><circle cx="238" cy="206.5" r="1.1"/><circle cx="241" cy="205.8" r="1.1"/><circle cx="244" cy="206.2" r="1.1"/><circle cx="247" cy="207.2" r="1.1"/><circle cx="250" cy="207" r="1.1"/><circle cx="253" cy="205.8" r="1.1"/><circle cx="256" cy="205" r="1.1"/><circle cx="259" cy="205" r="1.1"/><circle cx="262" cy="203" r="1.1"/><circle cx="265" cy="201.2" r="1.1"/><circle cx="268" cy="196.4" r="1.1"/><circle cx="271" cy="191.2" r="1.1"/><circle cx="274" cy="181.2" r="1.1"/><circle cx="277" cy="168.8" r="1.1"/><circle cx="280" cy="154.8" r="1.1"/><circle cx="283" cy="143.2" r="1.1"/><circle cx="286" cy="133.9" r="1.1"/><circle cx="289" cy="131" r="1.1"/><circle cx="292" cy="136.6" r="1.1"/><circle cx="295" cy="146.9" r="1.1"/><circle cx="298" cy="159" r="1.1"/><circle cx="301" cy="168.2" r="1.1"/><circle cx="304" cy="176.6" r="1.1"/><circle cx="307" cy="179" r="1.1"/><circle cx="310" cy="181.2" r="1.1"/><circle cx="313" cy="184.6" r="1.1"/><circle cx="316" cy="189.3" r="1.1"/><circle cx="319" cy="192.7" r="1.1"/><circle cx="322" cy="198.6" r="1.1"/><circle cx="325" cy="202.2" r="1.1"/><circle cx="328" cy="205.4" r="1.1"/><circle cx="331" cy="208.7" r="1.1"/><circle cx="334" cy="209.2" r="1.1"/><circle cx="337" cy="209.1" r="1.1"/><circle cx="340" cy="208.1" r="1.1"/><circle cx="343" cy="209.8" r="1.1"/><circle cx="346" cy="210.4" r="1.1"/><circle cx="349" cy="208.9" r="1.1"/><circle cx="352" cy="209.2" r="1.1"/><circle cx="355" cy="209.5" r="1.1"/><circle cx="358" cy="210.2" r="1.1"/><circle cx="361" cy="211.1" r="1.1"/><circle cx="364" cy="209.9" r="1.1"/><circle cx="367" cy="210.2" r="1.1"/><circle cx="370" cy="209.6" r="1.1"/><circle cx="373" cy="210.6" r="1.1"/></g>
<polyline fill="none" stroke="#b8a8b0" stroke-width="1.1" opacity="0.9" points="226,207.5 227,207.4 228,207.4 229,207.4 230,207.4 231,207.4 232,207.4 233,207.3 234,207.3 235,207.3 236,207.3 237,207.2 238,207.2 239,207.2 240,207.1 241,207.1 242,207.1 243,207 244,207 245,207 246,206.9 247,206.9 248,206.8 249,206.7 250,206.7 251,206.6 252,206.5 253,206.4 254,206.3 255,206.2 256,206 257,205.9 258,205.6 259,205.4 260,205 261,204.6 262,204.1 263,203.5 264,202.8 265,201.8 266,200.7 267,199.4 268,197.8 269,196 270,193.8 271,191.3 272,188.5 273,185.3 274,181.8 275,177.9 276,173.8 277,169.4 278,164.8 279,160.1 280,155.4 281,150.7 282,146.3 283,142.2 284,138.5 285,135.4 286,133 287,131.5 288,130.8 289,131 290,132.1 291,133.9 292,136.5 293,139.7 294,143.3 295,147.1 296,151.1 297,155.2 298,159.1 299,162.8 300,166.2 301,169.2 302,171.9 303,174.2 304,176.1 305,177.7 306,178.9 307,179.9 308,180.8 309,181.5 310,182.3 311,183.1 312,184 313,185.1 314,186.3 315,187.7 316,189.2 317,190.8 318,192.4 319,194.1 320,195.8 321,197.4 322,198.9 323,200.3 324,201.6 325,202.7 326,203.8 327,204.7 328,205.4 329,206.1 330,206.7 331,207.1 332,207.5 333,207.8 334,208 335,208.2 336,208.4 337,208.5 338,208.7 339,208.7 340,208.8 341,208.9 342,208.9 343,209 344,209 345,209.1 346,209.1 347,209.2 348,209.2 349,209.2 350,209.3 351,209.3 352,209.3 353,209.3 354,209.4 355,209.4 356,209.4 357,209.4 358,209.4 359,209.5 360,209.5 361,209.5 362,209.5 363,209.5 364,209.5 365,209.5 366,209.6 367,209.6 368,209.6 369,209.6 370,209.6 371,209.6 372,209.6 373,209.6 374,209.6"/>
<polyline fill="none" stroke="#a8a8a8" stroke-width="1.4" points="226,261.5 227,261.5 228,261.5 229,261.5 230,261.5 231,261.5 232,261.5 233,261.5 234,261.5 235,261.5 236,261.5 237,261.5 238,261.5 239,261.5 240,261.5 241,261.5 242,261.5 243,261.5 244,261.5 245,261.5 246,261.5 247,261.5 248,261.5 249,261.5 250,261.5 251,261.5 252,261.5 253,261.5 254,261.5 255,261.5 256,261.5 257,261.5 258,261.5 259,261.5 260,261.5 261,261.5 262,261.5 263,261.6 264,261.6 265,261.6 266,261.6 267,261.6 268,261.6 269,261.6 270,261.6 271,261.6 272,261.6 273,261.6 274,261.6 275,261.6 276,261.6 277,261.7 278,261.7 279,261.7 280,261.7 281,261.7 282,261.8 283,261.8 284,261.8 285,261.8 286,261.9 287,261.9 288,262 289,262 290,262 291,262.1 292,262.1 293,262.2 294,262.2 295,262.2 296,262.3 297,262.3 298,262.3 299,262.4 300,262.4 301,262.4 302,262.5 303,262.5 304,262.5 305,262.5 306,262.5 307,262.6 308,262.6 309,262.6 310,262.6 311,262.6 312,262.6 313,262.7 314,262.7 315,262.7 316,262.7 317,262.7 318,262.7 319,262.7 320,262.7 321,262.7 322,262.7 323,262.7 324,262.7 325,262.7 326,262.7 327,262.7 328,262.8 329,262.8 330,262.8 331,262.8 332,262.8 333,262.8 334,262.8 335,262.8 336,262.8 337,262.8 338,262.8 339,262.8 340,262.8 341,262.8 342,262.8 343,262.8 344,262.8 345,262.8 346,262.8 347,262.8 348,262.8 349,262.8 350,262.8 351,262.8 352,262.8 353,262.8 354,262.8 355,262.8 356,262.8 357,262.8 358,262.8 359,262.8 360,262.8 361,262.8 362,262.8 363,262.8 364,262.8 365,262.8 366,262.8 367,262.8 368,262.8 369,262.8 370,262.8 371,262.8 372,262.8 373,262.8 374,262.8"/>
<polyline fill="none" stroke="#b4b4b4" stroke-width="0.9" points="226,260.9 227,260.9 228,260.9 229,260.9 230,260.8 231,260.8 232,260.8 233,260.8 234,260.8 235,260.7 236,260.7 237,260.7 238,260.6 239,260.6 240,260.6 241,260.5 242,260.5 243,260.5 244,260.4 245,260.4 246,260.3 247,260.3 248,260.2 249,260.2 250,260.1 251,260 252,259.9 253,259.9 254,259.8 255,259.7 256,259.6 257,259.5 258,259.3 259,259.2 260,259 261,258.8 262,258.6 263,258.3 264,258 265,257.7 266,257.3 267,256.8 268,256.2 269,255.6 270,254.8 271,253.9 272,252.8 273,251.7 274,250.3 275,248.8 276,247.2 277,245.3 278,243.3 279,241.2 280,238.9 281,236.5 282,234.1 283,231.7 284,229.3 285,227.1 286,225.1 287,223.4 288,222.2 289,221.4 290,221.2 291,221.6 292,222.6 293,224 294,225.8 295,227.9 296,230.3 297,232.7 298,235.2 299,237.7 300,240.1 301,242.4 302,244.5 303,246.5 304,248.4 305,250 306,251.5 307,252.9 308,254 309,255.1 310,256 311,256.7 312,257.4 313,258 314,258.5 315,258.9 316,259.2 317,259.5 318,259.8 319,260 320,260.2 321,260.4 322,260.5 323,260.7 324,260.8 325,260.9 326,261 327,261.1 328,261.2 329,261.3 330,261.3 331,261.4 332,261.5 333,261.5 334,261.6 335,261.6 336,261.7 337,261.7 338,261.8 339,261.8 340,261.8 341,261.9 342,261.9 343,261.9 344,262 345,262 346,262 347,262.1 348,262.1 349,262.1 350,262.1 351,262.2 352,262.2 353,262.2 354,262.2 355,262.2 356,262.2 357,262.3 358,262.3 359,262.3 360,262.3 361,262.3 362,262.3 363,262.3 364,262.4 365,262.4 366,262.4 367,262.4 368,262.4 369,262.4 370,262.4 371,262.4 372,262.4 373,262.5 374,262.5"/>
<polyline fill="none" stroke="#b4b4b4" stroke-width="0.9" points="271,261.3 272,261.3 273,261.3 274,261.3 275,261.2 276,261.2 277,261.2 278,261.2 279,261.2 280,261.2 281,261.2 282,261.1 283,261.1 284,261.1 285,261 286,260.9 287,260.9 288,260.8 289,260.6 290,260.5 291,260.3 292,260.1 293,259.8 294,259.5 295,259.2 296,258.8 297,258.4 298,258 299,257.5 300,257 301,256.5 302,256 303,255.5 304,255.1 305,254.7 306,254.4 307,254.2 308,254.2 309,254.3 310,254.5 311,254.8 312,255.2 313,255.7 314,256.2 315,256.7 316,257.3 317,257.8 318,258.3 319,258.8 320,259.3 321,259.7 322,260.1 323,260.4 324,260.7 325,261 326,261.2 327,261.4 328,261.5 329,261.7 330,261.8 331,261.9 332,262 333,262.1 334,262.1 335,262.2 336,262.2 337,262.3 338,262.3 339,262.3 340,262.4 341,262.4 342,262.4 343,262.4 344,262.5 345,262.5"/>
<polyline fill="none" stroke="#2aaa78" stroke-width="3.8" stroke-linejoin="round" stroke-linecap="round" points="226,261.9 227,261.9 228,259.3 229,260.5 230,261.7 231,261.9 232,261.6 233,261.9 234,261.2 235,261.1 236,260.7 237,259.7 238,259.9 239,260.6 240,260.3 241,261.4 242,261.8 243,261.8 244,260.8 245,261.1 246,259.7 247,259.5 248,260.1 249,260 250,258.6 251,258.5 252,259.7 253,259.4 254,260.4 255,260 256,259.7 257,259.6 258,259.8 259,259.2 260,259.5 261,258.4 262,258.1 263,257.7 264,258.1 265,257.4 266,256.7 267,257.8 268,256 269,255.2 270,255 271,254.8 272,252.8 273,251.8 274,249.9 275,247.6 276,247.2 277,245.7 278,242.8 279,240.4 280,237.1 281,234.6 282,233.1 283,231.3 284,228.4 285,226.5 286,224.9 287,222.7 288,221.6 289,221 290,219.1 291,219.9 292,219.4 293,221.7 294,223.3 295,224.4 296,226 297,228.5 298,230.5 299,232.7 300,234.1 301,236.5 302,237.4 303,239.1 304,240.8 305,242.8 306,242.5 307,244.2 308,246.3 309,246.3 310,246.9 311,248.9 312,249.9 313,251.4 314,251.5 315,253 316,254.5 317,255.3 318,255 319,256.8 320,256.1 321,256 322,257 323,258.3 324,258.6 325,259.5 326,259.9 327,260 328,260.1 329,261.1 330,258.9 331,258.9 332,259.9 333,259.5 334,258.9 335,260 336,260.1 337,259.5 338,261.7 339,262.6 340,262.4 341,261.4 342,261.4 343,260.9 344,261.5 345,261.3 346,261.9 347,261.8 348,262.6 349,262.8 350,262.6 351,260.7 352,260.5 353,261.9 354,261.7 355,262.3 356,262.4 357,262.4 358,262.9 359,262.7 360,262.4 361,261.9 362,263.3 363,262.7 364,263.1 365,262.8 366,263.2 367,262.6 368,262.5 369,262.3 370,261.7 371,261.8 372,262.1 373,262.1 374,261.7"/>
<g fill="#2aaa78"><circle cx="226" cy="261.9" r="1.9"/><circle cx="228" cy="259.3" r="1.9"/><circle cx="230" cy="261.7" r="1.9"/><circle cx="232" cy="261.6" r="1.9"/><circle cx="234" cy="261.2" r="1.9"/><circle cx="236" cy="260.7" r="1.9"/><circle cx="238" cy="259.9" r="1.9"/><circle cx="240" cy="260.3" r="1.9"/><circle cx="242" cy="261.8" r="1.9"/><circle cx="244" cy="260.8" r="1.9"/><circle cx="246" cy="259.7" r="1.9"/><circle cx="248" cy="260.1" r="1.9"/><circle cx="250" cy="258.6" r="1.9"/><circle cx="252" cy="259.7" r="1.9"/><circle cx="254" cy="260.4" r="1.9"/><circle cx="256" cy="259.7" r="1.9"/><circle cx="258" cy="259.8" r="1.9"/><circle cx="260" cy="259.5" r="1.9"/><circle cx="262" cy="258.1" r="1.9"/><circle cx="264" cy="258.1" r="1.9"/><circle cx="266" cy="256.7" r="1.9"/><circle cx="268" cy="256" r="1.9"/><circle cx="270" cy="255" r="1.9"/><circle cx="272" cy="252.8" r="1.9"/><circle cx="274" cy="249.9" r="1.9"/><circle cx="276" cy="247.2" r="1.9"/><circle cx="278" cy="242.8" r="1.9"/><circle cx="280" cy="237.1" r="1.9"/><circle cx="282" cy="233.1" r="1.9"/><circle cx="284" cy="228.4" r="1.9"/><circle cx="286" cy="224.9" r="1.9"/><circle cx="288" cy="221.6" r="1.9"/><circle cx="290" cy="219.1" r="1.9"/><circle cx="292" cy="219.4" r="1.9"/><circle cx="294" cy="223.3" r="1.9"/><circle cx="296" cy="226" r="1.9"/><circle cx="298" cy="230.5" r="1.9"/><circle cx="300" cy="234.1" r="1.9"/><circle cx="302" cy="237.4" r="1.9"/><circle cx="304" cy="240.8" r="1.9"/><circle cx="306" cy="242.5" r="1.9"/><circle cx="308" cy="246.3" r="1.9"/><circle cx="310" cy="246.9" r="1.9"/><circle cx="312" cy="249.9" r="1.9"/><circle cx="314" cy="251.5" r="1.9"/><circle cx="316" cy="254.5" r="1.9"/><circle cx="318" cy="255" r="1.9"/><circle cx="320" cy="256.1" r="1.9"/><circle cx="322" cy="257" r="1.9"/><circle cx="324" cy="258.6" r="1.9"/><circle cx="326" cy="259.9" r="1.9"/><circle cx="328" cy="260.1" r="1.9"/><circle cx="330" cy="258.9" r="1.9"/><circle cx="332" cy="259.9" r="1.9"/><circle cx="334" cy="258.9" r="1.9"/><circle cx="336" cy="260.1" r="1.9"/><circle cx="338" cy="261.7" r="1.9"/><circle cx="340" cy="262.4" r="1.9"/><circle cx="342" cy="261.4" r="1.9"/><circle cx="344" cy="261.5" r="1.9"/><circle cx="346" cy="261.9" r="1.9"/><circle cx="348" cy="262.6" r="1.9"/><circle cx="350" cy="262.6" r="1.9"/><circle cx="352" cy="260.5" r="1.9"/><circle cx="354" cy="261.7" r="1.9"/><circle cx="356" cy="262.4" r="1.9"/><circle cx="358" cy="262.9" r="1.9"/><circle cx="360" cy="262.4" r="1.9"/><circle cx="362" cy="263.3" r="1.9"/><circle cx="364" cy="263.1" r="1.9"/><circle cx="366" cy="263.2" r="1.9"/><circle cx="368" cy="262.5" r="1.9"/><circle cx="370" cy="261.7" r="1.9"/><circle cx="372" cy="262.1" r="1.9"/><circle cx="374" cy="261.7" r="1.9"/></g>
<polyline fill="none" stroke="#8ccab0" stroke-width="1.1" opacity="0.9" points="226,260.9 227,260.8 228,260.8 229,260.8 230,260.8 231,260.7 232,260.7 233,260.7 234,260.7 235,260.6 236,260.6 237,260.6 238,260.5 239,260.5 240,260.5 241,260.4 242,260.4 243,260.4 244,260.3 245,260.3 246,260.2 247,260.2 248,260.1 249,260 250,260 251,259.9 252,259.8 253,259.7 254,259.6 255,259.5 256,259.4 257,259.3 258,259.2 259,259 260,258.8 261,258.6 262,258.4 263,258.1 264,257.8 265,257.5 266,257 267,256.5 268,256 269,255.3 270,254.5 271,253.6 272,252.5 273,251.3 274,250 275,248.4 276,246.7 277,244.9 278,242.9 279,240.7 280,238.4 281,236 282,233.5 283,231 284,228.6 285,226.3 286,224.2 287,222.4 288,221 289,220.1 290,219.7 291,219.8 292,220.5 293,221.6 294,223.1 295,224.9 296,226.8 297,228.8 298,230.8 299,232.8 300,234.7 301,236.4 302,238 303,239.5 304,240.9 305,242.2 306,243.4 307,244.5 308,245.6 309,246.7 310,247.8 311,248.9 312,250 313,251 314,252 315,252.9 316,253.8 317,254.7 318,255.4 319,256.1 320,256.8 321,257.4 322,257.9 323,258.3 324,258.8 325,259.1 326,259.5 327,259.7 328,260 329,260.2 330,260.4 331,260.6 332,260.7 333,260.8 334,261 335,261.1 336,261.1 337,261.2 338,261.3 339,261.4 340,261.4 341,261.5 342,261.6 343,261.6 344,261.7 345,261.7 346,261.7 347,261.8 348,261.8 349,261.9 350,261.9 351,261.9 352,262 353,262 354,262 355,262 356,262.1 357,262.1 358,262.1 359,262.1 360,262.1 361,262.2 362,262.2 363,262.2 364,262.2 365,262.2 366,262.3 367,262.3 368,262.3 369,262.3 370,262.3 371,262.3 372,262.3 373,262.3 374,262.4"/>
<polyline fill="none" stroke="#404040" stroke-width="1.3" points="321.5,73 321.5,141 311.5,155.5 311.5,235 309.3,238 309.3,269"/>
<g stroke="#202020" stroke-width="1.5" fill="none">
<line x1="421.3" y1="270.7" x2="569" y2="270.7"/>
<line x1="421.6" y1="270.7" x2="421.6" y2="275.5"/>
<line x1="451" y1="270.7" x2="451" y2="275.5"/>
<line x1="480.4" y1="270.7" x2="480.4" y2="275.5"/>
<line x1="509.7" y1="270.7" x2="509.7" y2="275.5"/>
<line x1="539.1" y1="270.7" x2="539.1" y2="275.5"/>
<line x1="568.5" y1="270.7" x2="568.5" y2="275.5"/>
</g>
<polyline fill="none" stroke="#a8a8a8" stroke-width="1.4" points="421,104 422,104 423,104 424,104 425,104 426,104 427,104 428,104 429,104 430,104 431,104 432,104 433,104 434,104 435,104 436,104 437,104 438,104 439,104 440,104 441,104 442,104 443,104 444,104 445,104 446,104 447,104 448,104 449,104 450,104 451,104 452,104 453,104 454,104 455,104 456,104 457,104 458,104 459,104 460,104 461,104 462,104 463,104.1 464,104.1 465,104.1 466,104.1 467,104.1 468,104.1 469,104.1 470,104.1 471,104.1 472,104.1 473,104.1 474,104.1 475,104.2 476,104.2 477,104.2 478,104.2 479,104.2 480,104.2 481,104.3 482,104.3 483,104.3 484,104.3 485,104.4 486,104.4 487,104.5 488,104.5 489,104.5 490,104.6 491,104.6 492,104.7 493,104.8 494,104.8 495,104.9 496,104.9 497,105 498,105 499,105.1 500,105.1 501,105.2 502,105.2 503,105.3 504,105.3 505,105.4 506,105.4 507,105.5 508,105.5 509,105.6 510,105.6 511,105.6 512,105.7 513,105.7 514,105.8 515,105.8 516,105.8 517,105.8 518,105.9 519,105.9 520,105.9 521,105.9 522,105.9 523,105.9 524,105.9 525,105.9 526,105.9 527,106 528,106 529,106 530,106 531,106 532,106 533,106 534,106 535,106 536,106 537,106 538,106 539,106 540,106 541,106 542,106 543,106 544,106 545,106 546,106 547,106 548,106 549,106 550,106 551,106 552,106 553,106 554,106 555,106 556,106 557,106 558,106 559,106 560,106 561,106 562,106 563,106 564,106 565,106 566,106 567,106 568,106 569,106"/>
<polyline fill="none" stroke="#b4b4b4" stroke-width="0.9" points="443,103.7 444,103.7 445,103.6 446,103.6 447,103.6 448,103.5 449,103.4 450,103.4 451,103.3 452,103.2 453,103.1 454,102.9 455,102.8 456,102.6 457,102.5 458,102.3 459,102.1 460,101.9 461,101.6 462,101.4 463,101.1 464,100.8 465,100.6 466,100.3 467,100 468,99.7 469,99.4 470,99.1 471,98.8 472,98.5 473,98.3 474,98 475,97.8 476,97.7 477,97.5 478,97.5 479,97.4 480,97.4 481,97.5 482,97.6 483,97.8 484,98 485,98.2 486,98.4 487,98.7 488,99.1 489,99.4 490,99.7 491,100.1 492,100.5 493,100.8 494,101.2 495,101.5 496,101.9 497,102.2 498,102.5 499,102.8 500,103.1 501,103.4 502,103.6 503,103.8 504,104.1 505,104.3 506,104.4 507,104.6 508,104.7 509,104.9 510,105 511,105.1 512,105.2 513,105.3 514,105.4 515,105.4 516,105.5"/>
<polyline fill="none" stroke="#b4b4b4" stroke-width="0.9" points="431,103.7 432,103.7 433,103.7 434,103.7 435,103.7 436,103.7 437,103.6 438,103.6 439,103.6 440,103.6 441,103.6 442,103.6 443,103.6 444,103.5 445,103.5 446,103.5 447,103.5 448,103.5 449,103.4 450,103.4 451,103.4 452,103.4 453,103.3 454,103.3 455,103.3 456,103.2 457,103.2 458,103.1 459,103.1 460,103 461,103 462,102.9 463,102.8 464,102.7 465,102.5 466,102.4 467,102.1 468,101.9 469,101.6 470,101.2 471,100.7 472,100.1 473,99.4 474,98.5 475,97.5 476,96.3 477,94.9 478,93.3 479,91.5 480,89.5 481,87.2 482,84.8 483,82.2 484,79.5 485,76.7 486,73.8 487,70.9 488,68.1 489,65.5 490,63.2 491,61.1 492,59.5 493,58.4 494,57.8 495,57.8 496,58.4 497,59.5 498,61.2 499,63.2 500,65.6 501,68.3 502,71.1 503,74.1 504,77 505,80 506,82.8 507,85.5 508,88 509,90.4 510,92.5 511,94.4 512,96.1 513,97.6 514,98.8 515,99.9 516,100.9 517,101.7 518,102.3 519,102.8 520,103.3 521,103.6 522,103.9 523,104.2 524,104.4 525,104.5 526,104.7 527,104.8 528,104.9 529,104.9 530,105 531,105.1 532,105.1 533,105.2 534,105.2 535,105.2 536,105.3 537,105.3 538,105.3 539,105.4 540,105.4 541,105.4 542,105.4 543,105.5 544,105.5 545,105.5 546,105.5 547,105.5 548,105.6 549,105.6 550,105.6 551,105.6 552,105.6 553,105.6 554,105.6 555,105.7 556,105.7 557,105.7 558,105.7"/>
<polyline fill="none" stroke="#b4b4b4" stroke-width="0.9" points="478,103.9 479,103.9 480,103.9 481,103.9 482,103.9 483,103.9 484,103.9 485,103.9 486,103.8 487,103.8 488,103.8 489,103.7 490,103.6 491,103.5 492,103.3 493,103 494,102.6 495,102.2 496,101.5 497,100.8 498,99.9 499,98.8 500,97.5 501,96 502,94.5 503,92.7 504,91 505,89.2 506,87.5 507,85.9 508,84.6 509,83.6 510,83.1 511,83 512,83.3 513,84.1 514,85.3 515,86.8 516,88.5 517,90.4 518,92.2 519,94 520,95.8 521,97.4 522,98.8 523,100.1 524,101.2 525,102.1 526,102.9 527,103.5 528,104 529,104.3 530,104.6 531,104.9 532,105 533,105.2 534,105.3 535,105.4 536,105.4 537,105.5 538,105.5 539,105.6 540,105.6 541,105.6 542,105.6 543,105.7 544,105.7"/>
<polyline fill="none" stroke="#2626dc" stroke-width="3.2" stroke-linejoin="round" stroke-linecap="round" points="421,103.7 422,103.9 423,103.2 424,102.6 425,102.8 426,102.5 427,103.7 428,104.8 429,103.2 430,102.9 431,103.9 432,104 433,103.5 434,102.6 435,103.4 436,103.8 437,102.1 438,102.2 439,101.1 440,101.2 441,101.1 442,102.3 443,101.9 444,103.2 445,103.2 446,102.3 447,100.3 448,101.8 449,102.6 450,102.4 451,101 452,101.4 453,101 454,101.3 455,102.6 456,101.2 457,101.5 458,102 459,100.6 460,100.5 461,100.5 462,99.9 463,98.5 464,99.4 465,99.9 466,97.3 467,98.4 468,97.4 469,96.4 470,97.9 471,96 472,93.2 473,93.2 474,92.7 475,91 476,90.1 477,88.2 478,87.2 479,85.8 480,82 481,80.1 482,77.3 483,75 484,71.4 485,69.1 486,67.1 487,65.6 488,63 489,58.3 490,56.4 491,55.5 492,51.9 493,51.8 494,52.1 495,53.1 496,52.8 497,52.3 498,53 499,54.6 500,57.3 501,57.2 502,58.4 503,60.3 504,61.3 505,62.2 506,62.7 507,64.7 508,66.1 509,68.9 510,70.2 511,71.4 512,73.8 513,75.6 514,79 515,81 516,83.6 517,84.8 518,88.1 519,88.8 520,90.5 521,94 522,95.7 523,98.6 524,101.5 525,100.1 526,100.7 527,102.3 528,103.2 529,103.1 530,103.5 531,104.6 532,104.5 533,103.3 534,104.1 535,104.3 536,103.7 537,104.6 538,104.2 539,105.7 540,105.3 541,105 542,104.4 543,104.4 544,102.9 545,103.7 546,104.9 547,103.4 548,105.3 549,103.9 550,105.5 551,104.8 552,106 553,105.3 554,104.2 555,106.6 556,107.1 557,105.6 558,105.2 559,105.1 560,104.8 561,106.3 562,105.2 563,105.2 564,104.7 565,104.5 566,104.5 567,106.5 568,105.9 569,106.5"/>
<g fill="#2626dc"><circle cx="421" cy="103.7" r="1.8"/><circle cx="423" cy="103.2" r="1.8"/><circle cx="425" cy="102.8" r="1.8"/><circle cx="427" cy="103.7" r="1.8"/><circle cx="429" cy="103.2" r="1.8"/><circle cx="431" cy="103.9" r="1.8"/><circle cx="433" cy="103.5" r="1.8"/><circle cx="435" cy="103.4" r="1.8"/><circle cx="437" cy="102.1" r="1.8"/><circle cx="439" cy="101.1" r="1.8"/><circle cx="441" cy="101.1" r="1.8"/><circle cx="443" cy="101.9" r="1.8"/><circle cx="445" cy="103.2" r="1.8"/><circle cx="447" cy="100.3" r="1.8"/><circle cx="449" cy="102.6" r="1.8"/><circle cx="451" cy="101" r="1.8"/><circle cx="453" cy="101" r="1.8"/><circle cx="455" cy="102.6" r="1.8"/><circle cx="457" cy="101.5" r="1.8"/><circle cx="459" cy="100.6" r="1.8"/><circle cx="461" cy="100.5" r="1.8"/><circle cx="463" cy="98.5" r="1.8"/><circle cx="465" cy="99.9" r="1.8"/><circle cx="467" cy="98.4" r="1.8"/><circle cx="469" cy="96.4" r="1.8"/><circle cx="471" cy="96" r="1.8"/><circle cx="473" cy="93.2" r="1.8"/><circle cx="475" cy="91" r="1.8"/><circle cx="477" cy="88.2" r="1.8"/><circle cx="479" cy="85.8" r="1.8"/><circle cx="481" cy="80.1" r="1.8"/><circle cx="483" cy="75" r="1.8"/><circle cx="485" cy="69.1" r="1.8"/><circle cx="487" cy="65.6" r="1.8"/><circle cx="489" cy="58.3" r="1.8"/><circle cx="491" cy="55.5" r="1.8"/><circle cx="493" cy="51.8" r="1.8"/><circle cx="495" cy="53.1" r="1.8"/><circle cx="497" cy="52.3" r="1.8"/><circle cx="499" cy="54.6" r="1.8"/><circle cx="501" cy="57.2" r="1.8"/><circle cx="503" cy="60.3" r="1.8"/><circle cx="505" cy="62.2" r="1.8"/><circle cx="507" cy="64.7" r="1.8"/><circle cx="509" cy="68.9" r="1.8"/><circle cx="511" cy="71.4" r="1.8"/><circle cx="513" cy="75.6" r="1.8"/><circle cx="515" cy="81" r="1.8"/><circle cx="517" cy="84.8" r="1.8"/><circle cx="519" cy="88.8" r="1.8"/><circle cx="521" cy="94" r="1.8"/><circle cx="523" cy="98.6" r="1.8"/><circle cx="525" cy="100.1" r="1.8"/><circle cx="527" cy="102.3" r="1.8"/><circle cx="529" cy="103.1" r="1.8"/><circle cx="531" cy="104.6" r="1.8"/><circle cx="533" cy="103.3" r="1.8"/><circle cx="535" cy="104.3" r="1.8"/><circle cx="537" cy="104.6" r="1.8"/><circle cx="539" cy="105.7" r="1.8"/><circle cx="541" cy="105" r="1.8"/><circle cx="543" cy="104.4" r="1.8"/><circle cx="545" cy="103.7" r="1.8"/><circle cx="547" cy="103.4" r="1.8"/><circle cx="549" cy="103.9" r="1.8"/><circle cx="551" cy="104.8" r="1.8"/><circle cx="553" cy="105.3" r="1.8"/><circle cx="555" cy="106.6" r="1.8"/><circle cx="557" cy="105.6" r="1.8"/><circle cx="559" cy="105.1" r="1.8"/><circle cx="561" cy="106.3" r="1.8"/><circle cx="563" cy="105.2" r="1.8"/><circle cx="565" cy="104.5" r="1.8"/><circle cx="567" cy="106.5" r="1.8"/><circle cx="569" cy="106.5" r="1.8"/></g>
<polyline fill="none" stroke="#9a9af0" stroke-width="1.2" opacity="0.9" points="421,103.6 422,103.6 423,103.6 424,103.6 425,103.6 426,103.6 427,103.6 428,103.6 429,103.5 430,103.5 431,103.5 432,103.5 433,103.5 434,103.5 435,103.4 436,103.4 437,103.4 438,103.4 439,103.3 440,103.3 441,103.3 442,103.2 443,103.2 444,103.1 445,103.1 446,103 447,102.9 448,102.9 449,102.8 450,102.7 451,102.5 452,102.4 453,102.3 454,102.1 455,101.9 456,101.7 457,101.5 458,101.3 459,101 460,100.7 461,100.4 462,100.1 463,99.7 464,99.3 465,98.9 466,98.4 467,97.8 468,97.3 469,96.6 470,95.9 471,95.1 472,94.2 473,93.2 474,92.1 475,90.9 476,89.5 477,87.9 478,86.2 479,84.4 480,82.3 481,80.1 482,77.7 483,75.2 484,72.6 485,69.9 486,67.2 487,64.6 488,62 489,59.5 490,57.3 491,55.4 492,53.8 493,52.7 494,52 495,51.8 496,52 497,52.6 498,53.5 499,54.6 500,55.9 501,57.3 502,58.7 503,60.1 504,61.4 505,62.6 506,63.8 507,65 508,66.3 509,67.7 510,69.3 511,71.1 512,73.2 513,75.5 514,78 515,80.6 516,83.3 517,85.9 518,88.4 519,90.8 520,92.9 521,94.9 522,96.6 523,98.2 524,99.4 525,100.5 526,101.4 527,102.1 528,102.7 529,103.2 530,103.6 531,103.9 532,104.1 533,104.3 534,104.4 535,104.5 536,104.6 537,104.7 538,104.8 539,104.9 540,104.9 541,105 542,105 543,105.1 544,105.1 545,105.1 546,105.2 547,105.2 548,105.2 549,105.3 550,105.3 551,105.3 552,105.4 553,105.4 554,105.4 555,105.4 556,105.4 557,105.5 558,105.5 559,105.5 560,105.5 561,105.5 562,105.5 563,105.6 564,105.6 565,105.6 566,105.6 567,105.6 568,105.6 569,105.6"/>
<polyline fill="none" stroke="#a8a8a8" stroke-width="1.4" points="421,200.5 422,200.5 423,200.5 424,200.5 425,200.5 426,200.5 427,200.5 428,200.5 429,200.5 430,200.5 431,200.5 432,200.5 433,200.5 434,200.5 435,200.5 436,200.5 437,200.5 438,200.5 439,200.5 440,200.5 441,200.5 442,200.5 443,200.5 444,200.5 445,200.5 446,200.5 447,200.5 448,200.5 449,200.5 450,200.5 451,200.5 452,200.5 453,200.5 454,200.5 455,200.5 456,200.5 457,200.5 458,200.5 459,200.5 460,200.5 461,200.5 462,200.5 463,200.5 464,200.5 465,200.6 466,200.6 467,200.6 468,200.6 469,200.6 470,200.6 471,200.6 472,200.6 473,200.6 474,200.6 475,200.7 476,200.7 477,200.7 478,200.7 479,200.7 480,200.8 481,200.8 482,200.8 483,200.8 484,200.9 485,200.9 486,200.9 487,201 488,201 489,201.1 490,201.1 491,201.2 492,201.2 493,201.2 494,201.3 495,201.3 496,201.4 497,201.4 498,201.4 499,201.5 500,201.5 501,201.6 502,201.6 503,201.6 504,201.6 505,201.7 506,201.7 507,201.7 508,201.7 509,201.8 510,201.8 511,201.8 512,201.8 513,201.8 514,201.9 515,201.9 516,201.9 517,201.9 518,201.9 519,201.9 520,201.9 521,201.9 522,201.9 523,201.9 524,202 525,202 526,202 527,202 528,202 529,202 530,202 531,202 532,202 533,202 534,202 535,202 536,202 537,202 538,202 539,202 540,202 541,202 542,202 543,202 544,202 545,202 546,202 547,202 548,202 549,202 550,202 551,202 552,202 553,202 554,202 555,202 556,202 557,202 558,202 559,202 560,202 561,202 562,202 563,202 564,202 565,202 566,202 567,202 568,202 569,202"/>
<polyline fill="none" stroke="#b4b4b4" stroke-width="0.9" points="452,200.2 453,200.1 454,200.1 455,199.9 456,199.8 457,199.6 458,199.3 459,199.1 460,198.7 461,198.3 462,197.8 463,197.3 464,196.8 465,196.2 466,195.7 467,195.2 468,194.8 469,194.5 470,194.4 471,194.4 472,194.6 473,194.9 474,195.4 475,195.9 476,196.5 477,197 478,197.6 479,198.1 480,198.6 481,199 482,199.4 483,199.7 484,200 485,200.2 486,200.4 487,200.5 488,200.7 489,200.8"/>
<polyline fill="none" stroke="#b4b4b4" stroke-width="0.9" points="421,200 422,200 423,200 424,199.9 425,199.9 426,199.9 427,199.9 428,199.9 429,199.9 430,199.8 431,199.8 432,199.8 433,199.8 434,199.7 435,199.7 436,199.7 437,199.7 438,199.6 439,199.6 440,199.6 441,199.5 442,199.5 443,199.5 444,199.4 445,199.4 446,199.3 447,199.3 448,199.2 449,199.1 450,199.1 451,199 452,198.9 453,198.8 454,198.7 455,198.6 456,198.5 457,198.3 458,198.2 459,197.9 460,197.7 461,197.4 462,197 463,196.5 464,196 465,195.3 466,194.5 467,193.6 468,192.5 469,191.2 470,189.6 471,187.8 472,185.8 473,183.5 474,180.8 475,177.9 476,174.7 477,171.3 478,167.6 479,163.6 480,159.5 481,155.3 482,151.1 483,146.9 484,142.9 485,139.1 486,135.6 487,132.7 488,130.3 489,128.6 490,127.7 491,127.6 492,128.3 493,129.8 494,132 495,134.8 496,138.1 497,141.8 498,145.9 499,150.1 500,154.4 501,158.7 502,162.9 503,166.9 504,170.8 505,174.4 506,177.7 507,180.8 508,183.6 509,186 510,188.2 511,190.1 512,191.8 513,193.2 514,194.5 515,195.5 516,196.4 517,197.1 518,197.7 519,198.2 520,198.6 521,199 522,199.2 523,199.5 524,199.7 525,199.9 526,200 527,200.1 528,200.2 529,200.3 530,200.4 531,200.5 532,200.6 533,200.6 534,200.7 535,200.8 536,200.8 537,200.9 538,200.9 539,201 540,201 541,201 542,201.1 543,201.1 544,201.1 545,201.2 546,201.2 547,201.2 548,201.2 549,201.3 550,201.3 551,201.3 552,201.3 553,201.4 554,201.4 555,201.4 556,201.4 557,201.4 558,201.4 559,201.5 560,201.5 561,201.5 562,201.5 563,201.5 564,201.5 565,201.5 566,201.6 567,201.6 568,201.6 569,201.6"/>
<polyline fill="none" stroke="#b4b4b4" stroke-width="0.9" points="473,200.3 474,200.3 475,200.3 476,200.3 477,200.3 478,200.3 479,200.3 480,200.3 481,200.3 482,200.3 483,200.2 484,200.2 485,200.1 486,200.1 487,200 488,199.9 489,199.7 490,199.5 491,199.2 492,198.9 493,198.4 494,197.9 495,197.3 496,196.5 497,195.7 498,194.7 499,193.6 500,192.4 501,191.2 502,189.8 503,188.5 504,187.1 505,185.8 506,184.7 507,183.7 508,182.9 509,182.4 510,182.2 511,182.3 512,182.7 513,183.5 514,184.4 515,185.6 516,186.8 517,188.2 518,189.6 519,191 520,192.3 521,193.6 522,194.8 523,195.8 524,196.8 525,197.6 526,198.3 527,198.9 528,199.5 529,199.9 530,200.2 531,200.5 532,200.7 533,200.9 534,201.1 535,201.2 536,201.3 537,201.3 538,201.4 539,201.5 540,201.5 541,201.5 542,201.6 543,201.6 544,201.6 545,201.6 546,201.7 547,201.7 548,201.7"/>
<polyline fill="none" stroke="#dc7a38" stroke-width="2.6" stroke-linejoin="round" stroke-linecap="round" points="421,198.3 422,198.3 423,198.5 424,199 425,198 426,199.1 427,199.2 428,200.4 429,200.9 430,201.1 431,200.5 432,199.9 433,200.5 434,200.8 435,199.4 436,199.9 437,199.8 438,200.4 439,199 440,199.1 441,199.6 442,199.3 443,198.1 444,199.2 445,199.1 446,198.8 447,198.9 448,198.8 449,197.7 450,199.5 451,197.8 452,196.6 453,198.1 454,199.2 455,198 456,199 457,198.6 458,196 459,194 460,194.5 461,195.5 462,193.4 463,191.6 464,190.7 465,190.6 466,189.6 467,188.8 468,187.2 469,184.3 470,182.7 471,180.5 472,179.2 473,176.4 474,174.5 475,174.3 476,170.6 477,168.1 478,166.2 479,161.6 480,156.9 481,153 482,148.7 483,145.8 484,141.5 485,138.9 486,134.2 487,130.8 488,128.5 489,127.4 490,126.3 491,126.4 492,125.6 493,127.2 494,129.9 495,130.8 496,133.8 497,137.4 498,139.6 499,141.4 500,143.9 501,149.7 502,151.9 503,154.6 504,156.3 505,159.9 506,161.4 507,162.7 508,164 509,166.7 510,168.2 511,170.1 512,171.3 513,174.2 514,176.8 515,178.2 516,181.2 517,183.8 518,185.1 519,186.6 520,188.5 521,190.9 522,191 523,192.8 524,194.1 525,195.5 526,196.1 527,196.6 528,199.1 529,198.5 530,197.5 531,198.1 532,199.4 533,199.8 534,199 535,200 536,199 537,199.5 538,201.1 539,201.8 540,200.7 541,200.5 542,201.4 543,200.1 544,200.8 545,201.2 546,201.7 547,201.2 548,200.9 549,201.2 550,200.4 551,201.4 552,200.5 553,200.2 554,200.7 555,201.3 556,201.7 557,201.3 558,201.9 559,202.1 560,201.2 561,200.7 562,201.9 563,201.4 564,199.6 565,200.3 566,201.1 567,200.3 568,200.4 569,200"/>
<g fill="#704030"><circle cx="421" cy="198.3" r="1.1"/><circle cx="424" cy="199" r="1.1"/><circle cx="427" cy="199.2" r="1.1"/><circle cx="430" cy="201.1" r="1.1"/><circle cx="433" cy="200.5" r="1.1"/><circle cx="436" cy="199.9" r="1.1"/><circle cx="439" cy="199" r="1.1"/><circle cx="442" cy="199.3" r="1.1"/><circle cx="445" cy="199.1" r="1.1"/><circle cx="448" cy="198.8" r="1.1"/><circle cx="451" cy="197.8" r="1.1"/><circle cx="454" cy="199.2" r="1.1"/><circle cx="457" cy="198.6" r="1.1"/><circle cx="460" cy="194.5" r="1.1"/><circle cx="463" cy="191.6" r="1.1"/><circle cx="466" cy="189.6" r="1.1"/><circle cx="469" cy="184.3" r="1.1"/><circle cx="472" cy="179.2" r="1.1"/><circle cx="475" cy="174.3" r="1.1"/><circle cx="478" cy="166.2" r="1.1"/><circle cx="481" cy="153" r="1.1"/><circle cx="484" cy="141.5" r="1.1"/><circle cx="487" cy="130.8" r="1.1"/><circle cx="490" cy="126.3" r="1.1"/><circle cx="493" cy="127.2" r="1.1"/><circle cx="496" cy="133.8" r="1.1"/><circle cx="499" cy="141.4" r="1.1"/><circle cx="502" cy="151.9" r="1.1"/><circle cx="505" cy="159.9" r="1.1"/><circle cx="508" cy="164" r="1.1"/><circle cx="511" cy="170.1" r="1.1"/><circle cx="514" cy="176.8" r="1.1"/><circle cx="517" cy="183.8" r="1.1"/><circle cx="520" cy="188.5" r="1.1"/><circle cx="523" cy="192.8" r="1.1"/><circle cx="526" cy="196.1" r="1.1"/><circle cx="529" cy="198.5" r="1.1"/><circle cx="532" cy="199.4" r="1.1"/><circle cx="535" cy="200" r="1.1"/><circle cx="538" cy="201.1" r="1.1"/><circle cx="541" cy="200.5" r="1.1"/><circle cx="544" cy="200.8" r="1.1"/><circle cx="547" cy="201.2" r="1.1"/><circle cx="550" cy="200.4" r="1.1"/><circle cx="553" cy="200.2" r="1.1"/><circle cx="556" cy="201.7" r="1.1"/><circle cx="559" cy="202.1" r="1.1"/><circle cx="562" cy="201.9" r="1.1"/><circle cx="565" cy="200.3" r="1.1"/><circle cx="568" cy="200.4" r="1.1"/></g>
<polyline fill="none" stroke="#b8a8b0" stroke-width="1.1" opacity="0.9" points="421,199.9 422,199.9 423,199.9 424,199.8 425,199.8 426,199.8 427,199.8 428,199.8 429,199.7 430,199.7 431,199.7 432,199.7 433,199.6 434,199.6 435,199.6 436,199.5 437,199.5 438,199.5 439,199.4 440,199.4 441,199.3 442,199.3 443,199.2 444,199.2 445,199.1 446,199.1 447,199 448,198.9 449,198.8 450,198.7 451,198.6 452,198.5 453,198.3 454,198.1 455,197.9 456,197.6 457,197.2 458,196.8 459,196.3 460,195.7 461,194.9 462,194.1 463,193.1 464,192 465,190.8 466,189.5 467,188 468,186.5 469,184.9 470,183.2 471,181.4 472,179.5 473,177.5 474,175.3 475,172.8 476,170.2 477,167.2 478,164 479,160.6 480,156.9 481,153.1 482,149.1 483,145.2 484,141.3 485,137.6 486,134.2 487,131.2 488,128.8 489,127 490,125.8 491,125.4 492,125.8 493,126.8 494,128.4 495,130.6 496,133.1 497,136 498,139 499,142.1 500,145.2 501,148.2 502,151 503,153.7 504,156.2 505,158.5 506,160.6 507,162.7 508,164.7 509,166.6 510,168.6 511,170.6 512,172.7 513,174.8 514,177 515,179.1 516,181.3 517,183.3 518,185.3 519,187.2 520,189 521,190.6 522,192 523,193.3 524,194.5 525,195.5 526,196.4 527,197.1 528,197.7 529,198.2 530,198.7 531,199 532,199.3 533,199.6 534,199.8 535,199.9 536,200.1 537,200.2 538,200.3 539,200.4 540,200.5 541,200.6 542,200.6 543,200.7 544,200.7 545,200.8 546,200.8 547,200.9 548,200.9 549,201 550,201 551,201 552,201.1 553,201.1 554,201.1 555,201.2 556,201.2 557,201.2 558,201.2 559,201.3 560,201.3 561,201.3 562,201.3 563,201.4 564,201.4 565,201.4 566,201.4 567,201.4 568,201.4 569,201.5"/>
<polyline fill="none" stroke="#a8a8a8" stroke-width="1.4" points="421,258 422,258 423,258 424,258 425,258 426,258 427,258 428,258 429,258 430,258 431,258 432,258 433,258 434,258 435,258 436,258 437,258 438,258 439,258 440,258 441,258 442,258 443,258 444,258 445,258 446,258 447,258 448,258 449,258 450,258 451,258 452,258 453,258 454,258 455,258 456,258 457,258 458,258 459,258 460,258 461,258 462,258 463,258 464,258 465,258 466,258 467,258 468,258.1 469,258.1 470,258.1 471,258.1 472,258.1 473,258.1 474,258.1 475,258.1 476,258.1 477,258.1 478,258.1 479,258.1 480,258.1 481,258.2 482,258.2 483,258.2 484,258.2 485,258.2 486,258.2 487,258.3 488,258.3 489,258.3 490,258.3 491,258.4 492,258.4 493,258.4 494,258.5 495,258.5 496,258.5 497,258.5 498,258.6 499,258.6 500,258.6 501,258.6 502,258.7 503,258.7 504,258.7 505,258.7 506,258.7 507,258.8 508,258.8 509,258.8 510,258.8 511,258.8 512,258.8 513,258.9 514,258.9 515,258.9 516,258.9 517,258.9 518,258.9 519,258.9 520,258.9 521,258.9 522,258.9 523,258.9 524,258.9 525,259 526,259 527,259 528,259 529,259 530,259 531,259 532,259 533,259 534,259 535,259 536,259 537,259 538,259 539,259 540,259 541,259 542,259 543,259 544,259 545,259 546,259 547,259 548,259 549,259 550,259 551,259 552,259 553,259 554,259 555,259 556,259 557,259 558,259 559,259 560,259 561,259 562,259 563,259 564,259 565,259 566,259 567,259 568,259 569,259"/>
<polyline fill="none" stroke="#b4b4b4" stroke-width="0.9" points="457,257.7 458,257.6 459,257.6 460,257.5 461,257.4 462,257.3 463,257.1 464,256.9 465,256.7 466,256.4 467,256.2 468,255.8 469,255.5 470,255.1 471,254.8 472,254.4 473,254.2 474,254 475,253.9 476,253.9 477,254.1 478,254.3 479,254.6 480,255 481,255.4 482,255.7 483,256.1 484,256.4 485,256.7 486,257 487,257.2 488,257.4 489,257.6 490,257.8 491,257.9 492,258 493,258.1 494,258.1"/>
<polyline fill="none" stroke="#b4b4b4" stroke-width="0.9" points="421,257.6 422,257.6 423,257.6 424,257.6 425,257.6 426,257.6 427,257.5 428,257.5 429,257.5 430,257.5 431,257.5 432,257.5 433,257.4 434,257.4 435,257.4 436,257.4 437,257.4 438,257.4 439,257.3 440,257.3 441,257.3 442,257.3 443,257.2 444,257.2 445,257.2 446,257.1 447,257.1 448,257.1 449,257 450,257 451,256.9 452,256.9 453,256.8 454,256.8 455,256.7 456,256.6 457,256.5 458,256.5 459,256.4 460,256.3 461,256.2 462,256 463,255.9 464,255.7 465,255.5 466,255.3 467,255 468,254.7 469,254.3 470,253.9 471,253.3 472,252.7 473,252 474,251.1 475,250.2 476,249.1 477,247.8 478,246.4 479,244.8 480,243.1 481,241.3 482,239.3 483,237.2 484,235 485,232.7 486,230.5 487,228.4 488,226.4 489,224.6 490,223.1 491,222 492,221.4 493,221.2 494,221.6 495,222.5 496,223.8 497,225.5 498,227.4 499,229.5 500,231.8 501,234.1 502,236.3 503,238.5 504,240.6 505,242.6 506,244.4 507,246.1 508,247.7 509,249 510,250.2 511,251.3 512,252.3 513,253.1 514,253.8 515,254.4 516,254.9 517,255.3 518,255.7 519,256 520,256.3 521,256.5 522,256.7 523,256.9 524,257 525,257.1 526,257.2 527,257.3 528,257.4 529,257.5 530,257.6 531,257.7 532,257.7 533,257.8 534,257.8 535,257.9 536,257.9 537,258 538,258 539,258.1 540,258.1 541,258.1 542,258.2 543,258.2 544,258.2 545,258.3 546,258.3 547,258.3 548,258.3 549,258.4 550,258.4 551,258.4 552,258.4 553,258.4 554,258.5 555,258.5 556,258.5 557,258.5 558,258.5 559,258.5 560,258.6 561,258.6 562,258.6 563,258.6 564,258.6 565,258.6 566,258.6 567,258.6 568,258.6 569,258.7"/>
<polyline fill="none" stroke="#b4b4b4" stroke-width="0.9" points="468,257.7 469,257.7 470,257.7 471,257.7 472,257.7 473,257.7 474,257.7 475,257.7 476,257.6 477,257.6 478,257.6 479,257.6 480,257.6 481,257.5 482,257.5 483,257.5 484,257.4 485,257.3 486,257.3 487,257.2 488,257.1 489,256.9 490,256.8 491,256.6 492,256.3 493,256 494,255.7 495,255.3 496,254.8 497,254.3 498,253.7 499,253 500,252.3 501,251.5 502,250.7 503,249.9 504,249 505,248.2 506,247.5 507,246.9 508,246.5 509,246.2 510,246.1 511,246.3 512,246.6 513,247.1 514,247.8 515,248.6 516,249.4 517,250.2 518,251.1 519,251.9 520,252.7 521,253.5 522,254.2 523,254.8 524,255.3 525,255.8 526,256.3 527,256.6 528,256.9 529,257.2 530,257.4 531,257.6 532,257.8 533,257.9 534,258 535,258.1 536,258.2 537,258.3 538,258.3 539,258.4 540,258.4 541,258.4 542,258.5 543,258.5 544,258.5 545,258.6 546,258.6 547,258.6 548,258.6 549,258.6 550,258.7 551,258.7 552,258.7"/>
<polyline fill="none" stroke="#2aaa78" stroke-width="3.8" stroke-linejoin="round" stroke-linecap="round" points="421,257 422,257.3 423,256.4 424,257.8 425,258.3 426,257.3 427,257.7 428,257.6 429,257 430,256.4 431,256 432,258 433,257.9 434,259.2 435,258.2 436,257.4 437,257 438,258 439,257.2 440,258.1 441,257.1 442,256.9 443,256.3 444,258.4 445,257.1 446,256.7 447,257.2 448,256.4 449,256.9 450,256 451,256.6 452,255.6 453,254.9 454,255.4 455,255.2 456,256.3 457,256.2 458,256.3 459,255.8 460,255.3 461,255.4 462,255.7 463,254.6 464,253.6 465,253.1 466,253 467,252.5 468,253.2 469,250.7 470,249.6 471,249.4 472,249.1 473,247.5 474,245.8 475,244.8 476,244.2 477,243.8 478,241.5 479,240.5 480,239 481,238 482,236.3 483,233.7 484,233.9 485,230.8 486,227.8 487,225.5 488,224 489,222.6 490,221.3 491,219.9 492,219 493,217.3 494,217.6 495,218.2 496,219.9 497,221.1 498,221.3 499,223.5 500,225.9 501,227.3 502,227.6 503,229.8 504,231.1 505,232 506,234.2 507,233.6 508,234.9 509,236.6 510,237.7 511,238.8 512,241.1 513,242.6 514,243.6 515,244.8 516,245.3 517,246.1 518,249 519,249 520,251.4 521,251.3 522,252 523,252.7 524,253.9 525,254 526,255.8 527,255.7 528,255.5 529,255.4 530,256.1 531,256.6 532,258 533,257.4 534,256.1 535,257.5 536,255.9 537,257.7 538,256.2 539,257.3 540,258.1 541,257.5 542,257.1 543,258.1 544,256.5 545,256.7 546,258.5 547,257.5 548,258.1 549,258.6 550,258.1 551,258.3 552,258.3 553,258.5 554,259.2 555,259.1 556,258.7 557,258.9 558,257.9 559,257.5 560,257.6 561,259 562,259.6 563,258.4 564,257 565,257.8 566,258.7 567,258.7 568,258.7 569,259.2"/>
<g fill="#2aaa78"><circle cx="421" cy="257" r="1.9"/><circle cx="423" cy="256.4" r="1.9"/><circle cx="425" cy="258.3" r="1.9"/><circle cx="427" cy="257.7" r="1.9"/><circle cx="429" cy="257" r="1.9"/><circle cx="431" cy="256" r="1.9"/><circle cx="433" cy="257.9" r="1.9"/><circle cx="435" cy="258.2" r="1.9"/><circle cx="437" cy="257" r="1.9"/><circle cx="439" cy="257.2" r="1.9"/><circle cx="441" cy="257.1" r="1.9"/><circle cx="443" cy="256.3" r="1.9"/><circle cx="445" cy="257.1" r="1.9"/><circle cx="447" cy="257.2" r="1.9"/><circle cx="449" cy="256.9" r="1.9"/><circle cx="451" cy="256.6" r="1.9"/><circle cx="453" cy="254.9" r="1.9"/><circle cx="455" cy="255.2" r="1.9"/><circle cx="457" cy="256.2" r="1.9"/><circle cx="459" cy="255.8" r="1.9"/><circle cx="461" cy="255.4" r="1.9"/><circle cx="463" cy="254.6" r="1.9"/><circle cx="465" cy="253.1" r="1.9"/><circle cx="467" cy="252.5" r="1.9"/><circle cx="469" cy="250.7" r="1.9"/><circle cx="471" cy="249.4" r="1.9"/><circle cx="473" cy="247.5" r="1.9"/><circle cx="475" cy="244.8" r="1.9"/><circle cx="477" cy="243.8" r="1.9"/><circle cx="479" cy="240.5" r="1.9"/><circle cx="481" cy="238" r="1.9"/><circle cx="483" cy="233.7" r="1.9"/><circle cx="485" cy="230.8" r="1.9"/><circle cx="487" cy="225.5" r="1.9"/><circle cx="489" cy="222.6" r="1.9"/><circle cx="491" cy="219.9" r="1.9"/><circle cx="493" cy="217.3" r="1.9"/><circle cx="495" cy="218.2" r="1.9"/><circle cx="497" cy="221.1" r="1.9"/><circle cx="499" cy="223.5" r="1.9"/><circle cx="501" cy="227.3" r="1.9"/><circle cx="503" cy="229.8" r="1.9"/><circle cx="505" cy="232" r="1.9"/><circle cx="507" cy="233.6" r="1.9"/><circle cx="509" cy="236.6" r="1.9"/><circle cx="511" cy="238.8" r="1.9"/><circle cx="513" cy="242.6" r="1.9"/><circle cx="515" cy="244.8" r="1.9"/><circle cx="517" cy="246.1" r="1.9"/><circle cx="519" cy="249" r="1.9"/><circle cx="521" cy="251.3" r="1.9"/><circle cx="523" cy="252.7" r="1.9"/><circle cx="525" cy="254" r="1.9"/><circle cx="527" cy="255.7" r="1.9"/><circle cx="529" cy="255.4" r="1.9"/><circle cx="531" cy="256.6" r="1.9"/><circle cx="533" cy="257.4" r="1.9"/><circle cx="535" cy="257.5" r="1.9"/><circle cx="537" cy="257.7" r="1.9"/><circle cx="539" cy="257.3" r="1.9"/><circle cx="541" cy="257.5" r="1.9"/><circle cx="543" cy="258.1" r="1.9"/><circle cx="545" cy="256.7" r="1.9"/><circle cx="547" cy="257.5" r="1.9"/><circle cx="549" cy="258.6" r="1.9"/><circle cx="551" cy="258.3" r="1.9"/><circle cx="553" cy="258.5" r="1.9"/><circle cx="555" cy="259.1" r="1.9"/><circle cx="557" cy="258.9" r="1.9"/><circle cx="559" cy="257.5" r="1.9"/><circle cx="561" cy="259" r="1.9"/><circle cx="563" cy="258.4" r="1.9"/><circle cx="565" cy="257.8" r="1.9"/><circle cx="567" cy="258.7" r="1.9"/><circle cx="569" cy="259.2" r="1.9"/></g>
<polyline fill="none" stroke="#8ccab0" stroke-width="1.1" opacity="0.9" points="421,257.5 422,257.5 423,257.5 424,257.5 425,257.4 426,257.4 427,257.4 428,257.4 429,257.4 430,257.4 431,257.3 432,257.3 433,257.3 434,257.3 435,257.2 436,257.2 437,257.2 438,257.2 439,257.1 440,257.1 441,257.1 442,257 443,257 444,257 445,256.9 446,256.9 447,256.8 448,256.8 449,256.7 450,256.6 451,256.6 452,256.5 453,256.4 454,256.3 455,256.3 456,256.1 457,256 458,255.9 459,255.7 460,255.5 461,255.3 462,255 463,254.7 464,254.3 465,253.9 466,253.4 467,252.8 468,252.2 469,251.4 470,250.6 471,249.7 472,248.7 473,247.7 474,246.6 475,245.5 476,244.4 477,243.3 478,242.1 479,240.8 480,239.4 481,237.8 482,236.2 483,234.3 484,232.4 485,230.4 486,228.3 487,226.3 488,224.3 489,222.5 490,220.9 491,219.7 492,218.9 493,218.5 494,218.5 495,219 496,219.9 497,221 498,222.3 499,223.8 500,225.3 501,226.8 502,228.2 503,229.6 504,230.8 505,232 506,233.1 507,234.2 508,235.2 509,236.3 510,237.5 511,238.7 512,239.9 513,241.3 514,242.6 515,244 516,245.3 517,246.6 518,247.8 519,249 520,250 521,251 522,251.9 523,252.6 524,253.3 525,254 526,254.5 527,255 528,255.4 529,255.7 530,256 531,256.3 532,256.5 533,256.7 534,256.9 535,257 536,257.1 537,257.2 538,257.3 539,257.4 540,257.5 541,257.6 542,257.6 543,257.7 544,257.8 545,257.8 546,257.9 547,257.9 548,258 549,258 550,258 551,258.1 552,258.1 553,258.1 554,258.2 555,258.2 556,258.2 557,258.2 558,258.3 559,258.3 560,258.3 561,258.3 562,258.4 563,258.4 564,258.4 565,258.4 566,258.4 567,258.5 568,258.5 569,258.5"/>
<line x1="125.4" y1="33" x2="125.4" y2="51.6" stroke="#202020" stroke-width="1.3"/><path d="M121.6 43.6 L125.4 54.6 L129.2 43.6 L125.4 46.6 Z" fill="#202020"/>
<line x1="145.2" y1="121" x2="145.2" y2="147" stroke="#202020" stroke-width="1.3"/><path d="M141.4 139 L145.2 150 L149 139 L145.2 142 Z" fill="#202020"/>
<line x1="292.6" y1="38" x2="292.6" y2="55.5" stroke="#202020" stroke-width="1.3"/><path d="M288.8 47.5 L292.6 58.5 L296.4 47.5 L292.6 50.5 Z" fill="#202020"/>
<line x1="321" y1="56.5" x2="321" y2="70.9" stroke="#202020" stroke-width="1.3"/><path d="M317.2 62.9 L321 73.9 L324.8 62.9 L321 65.9 Z" fill="#202020"/>
<line x1="495.5" y1="28.5" x2="495.5" y2="43.8" stroke="#202020" stroke-width="1.3"/><path d="M491.7 35.8 L495.5 46.8 L499.3 35.8 L495.5 38.8 Z" fill="#202020"/>
<line x1="510.3" y1="42" x2="510.3" y2="58" stroke="#202020" stroke-width="1.3"/><path d="M506.5 50 L510.3 61 L514.1 50 L510.3 53 Z" fill="#202020"/>
<line x1="477.6" y1="61" x2="477.6" y2="79.4" stroke="#202020" stroke-width="1.3"/><path d="M473.8 71.4 L477.6 82.4 L481.4 71.4 L477.6 74.4 Z" fill="#202020"/>
<text x="156.8" y="22" font-family="Liberation Serif" font-size="15.5" font-weight="bold" font-style="normal" fill="#1a1a1a" text-anchor="start" textLength="32.2" lengthAdjust="spacingAndGlyphs">Ti 2p</text>
<text x="121.7" y="30.5" font-family="Liberation Serif" font-size="12.6" font-weight="normal" font-style="normal" fill="#1a1a1a" text-anchor="start" >Ti</text>
<text x="133.5" y="26.5" font-family="Liberation Serif" font-size="8.5" font-weight="normal" font-style="normal" fill="#1a1a1a" text-anchor="start" >4+</text>
<text x="134.2" y="71.5" font-family="Liberation Serif" font-size="11" font-weight="normal" font-style="normal" fill="#1a1a1a" text-anchor="start" textLength="23.3" lengthAdjust="spacingAndGlyphs">Ti 2p</text>
<text x="157.6" y="74.3" font-family="Liberation Serif" font-size="6.8" font-weight="normal" font-style="normal" fill="#888" text-anchor="start" >3/2</text>
<text x="69.7" y="111.4" font-family="Liberation Serif" font-size="10.2" font-weight="normal" font-style="normal" fill="#1a1a1a" text-anchor="start" textLength="21.4" lengthAdjust="spacingAndGlyphs">Ti 2p</text>
<text x="91.8" y="114.6" font-family="Liberation Serif" font-size="6.8" font-weight="normal" font-style="normal" fill="#888" text-anchor="start" >1/2</text>
<text x="145.2" y="115.9" font-family="Liberation Serif" font-size="12.6" font-weight="normal" font-style="normal" fill="#1a1a1a" text-anchor="start" >Ti</text>
<text x="157" y="112" font-family="Liberation Serif" font-size="8.5" font-weight="normal" font-style="normal" fill="#1a1a1a" text-anchor="start" >3+</text>
<text transform="translate(21,181.5) rotate(-90)" font-family="Liberation Serif" font-weight="bold" font-size="15" fill="#1a1a1a" textLength="107" lengthAdjust="spacingAndGlyphs">Intensity (c.p.s.)</text>
<text x="356.8" y="22.9" font-family="Liberation Serif" font-size="16" font-weight="normal" font-style="normal" fill="#1a1a1a" text-anchor="start" textLength="23" lengthAdjust="spacingAndGlyphs" stroke="#1a1a1a" stroke-width="0.25">O 1</text>
<text x="380.5" y="22.9" font-family="Liberation Serif" font-size="16" font-weight="normal" font-style="italic" fill="#1a1a1a" text-anchor="start" stroke="#1a1a1a" stroke-width="0.25">s</text>
<text x="272.2" y="33.7" font-family="Liberation Serif" font-size="14.5" font-weight="bold" font-style="italic" fill="#1a1a1a" text-anchor="start" textLength="11.5" lengthAdjust="spacingAndGlyphs">O</text>
<text x="284.2" y="35.9" font-family="Liberation Serif" font-size="9.3" font-weight="normal" font-style="normal" fill="#1a1a1a" text-anchor="start" >cell</text>
<text x="315.8" y="34.8" font-family="Liberation Serif" font-size="14" font-weight="bold" font-style="italic" fill="#1a1a1a" text-anchor="start" textLength="9.8" lengthAdjust="spacingAndGlyphs">O</text>
<text x="325" y="34.6" font-family="Liberation Serif" font-size="12.5" font-weight="normal" font-style="normal" fill="#1a1a1a" text-anchor="start" textLength="17.4" lengthAdjust="spacingAndGlyphs">-Ti</text>
<text x="316.3" y="54.2" font-family="Liberation Serif" font-size="12.3" font-weight="normal" font-style="normal" fill="#1a1a1a" text-anchor="start" >and</text>
<text x="338.2" y="54.4" font-family="Liberation Serif" font-size="14" font-weight="bold" font-style="italic" fill="#1a1a1a" text-anchor="start" textLength="10.8" lengthAdjust="spacingAndGlyphs">O</text>
<text x="349" y="54.2" font-family="Liberation Serif" font-size="12.1" font-weight="normal" font-style="normal" fill="#1a1a1a" text-anchor="start" >=C</text>
<text x="551.8" y="25.9" font-family="Liberation Serif" font-size="16" font-weight="normal" font-style="normal" fill="#1a1a1a" text-anchor="start" textLength="23" lengthAdjust="spacingAndGlyphs" stroke="#1a1a1a" stroke-width="0.25">C 1</text>
<text x="575.5" y="25.9" font-family="Liberation Serif" font-size="16" font-weight="normal" font-style="italic" fill="#1a1a1a" text-anchor="start" stroke="#1a1a1a" stroke-width="0.25">s</text>
<text x="469.5" y="27.8" font-family="Liberation Serif" font-size="14.5" font-weight="bold" font-style="italic" fill="#1a1a1a" text-anchor="start" textLength="9.6" lengthAdjust="spacingAndGlyphs">C</text>
<text x="478.8" y="27.8" font-family="Liberation Sans" font-size="12.5" font-weight="normal" font-style="normal" fill="#1a1a1a" text-anchor="start" textLength="13.8" lengthAdjust="spacingAndGlyphs">-O</text>
<text x="509" y="40.4" font-family="Liberation Serif" font-size="14.5" font-weight="bold" font-style="italic" fill="#1a1a1a" text-anchor="start" textLength="11.3" lengthAdjust="spacingAndGlyphs">C</text>
<text x="523.2" y="40.4" font-family="Liberation Serif" font-size="12.5" font-weight="normal" font-style="normal" fill="#1a1a1a" text-anchor="start" textLength="13.6" lengthAdjust="spacingAndGlyphs">sp</text>
<text x="537" y="37.5" font-family="Liberation Serif" font-size="8.5" font-weight="normal" font-style="normal" fill="#1a1a1a" text-anchor="start" >3</text>
<text x="433.7" y="52.2" font-family="Liberation Sans" font-size="12" font-weight="normal" font-style="normal" fill="#1a1a1a" text-anchor="start" textLength="14" lengthAdjust="spacingAndGlyphs">O-</text>
<text x="448.4" y="52.2" font-family="Liberation Serif" font-size="14" font-weight="bold" font-style="italic" fill="#1a1a1a" text-anchor="start" textLength="10" lengthAdjust="spacingAndGlyphs">C</text>
<text x="458.8" y="52.2" font-family="Liberation Sans" font-size="12" font-weight="normal" font-style="normal" fill="#1a1a1a" text-anchor="start" textLength="15.2" lengthAdjust="spacingAndGlyphs">=O</text>
<text x="415.9" y="70.5" font-family="Liberation Serif" font-size="12.3" font-weight="normal" font-style="normal" fill="#1a1a1a" text-anchor="start" >and</text>
<text x="436.1" y="70.5" font-family="Liberation Sans" font-size="12" font-weight="normal" font-style="normal" fill="#1a1a1a" text-anchor="start" textLength="15.5" lengthAdjust="spacingAndGlyphs">O-</text>
<text x="452" y="70.5" font-family="Liberation Serif" font-size="14" font-weight="bold" font-style="italic" fill="#1a1a1a" text-anchor="start" textLength="9.5" lengthAdjust="spacingAndGlyphs">C</text>
<text x="461.2" y="70.5" font-family="Liberation Sans" font-size="12" font-weight="normal" font-style="normal" fill="#1a1a1a" text-anchor="start" textLength="13.3" lengthAdjust="spacingAndGlyphs">-O</text>
<text x="535.2" y="92.2" font-family="Liberation Serif" font-size="13" font-weight="bold" font-style="normal" fill="#1a1a1a" text-anchor="start" textLength="20.8" lengthAdjust="spacingAndGlyphs">140</text><circle cx="560" cy="86.6" r="1.8" fill="none" stroke="#1a1a1a" stroke-width="1.1"/><text x="564.5" y="92.2" font-family="Liberation Serif" font-size="12.5" font-weight="bold" font-style="normal" fill="#1a1a1a" text-anchor="start" textLength="8" lengthAdjust="spacingAndGlyphs">C</text>
<text x="533.7" y="191.2" font-family="Liberation Serif" font-size="13" font-weight="bold" font-style="normal" fill="#1a1a1a" text-anchor="start" textLength="20.8" lengthAdjust="spacingAndGlyphs">110</text><circle cx="558.5" cy="185.6" r="1.8" fill="none" stroke="#1a1a1a" stroke-width="1.1"/><text x="563" y="191.2" font-family="Liberation Serif" font-size="12.5" font-weight="bold" font-style="normal" fill="#1a1a1a" text-anchor="start" textLength="8" lengthAdjust="spacingAndGlyphs">C</text>
<text x="541.6" y="250.3" font-family="Liberation Serif" font-size="13" font-weight="bold" font-style="normal" fill="#1a1a1a" text-anchor="start" textLength="13.9" lengthAdjust="spacingAndGlyphs">50</text><circle cx="559.5" cy="244.7" r="1.8" fill="none" stroke="#1a1a1a" stroke-width="1.1"/><text x="564" y="250.3" font-family="Liberation Serif" font-size="12.5" font-weight="bold" font-style="normal" fill="#1a1a1a" text-anchor="start" textLength="8" lengthAdjust="spacingAndGlyphs">C</text>
<g font-family="Liberation Serif" font-size="14" fill="#1a1a1a"><text x="58" y="288.6" text-anchor="middle">467</text><text x="98" y="288.6" text-anchor="middle">462</text><text x="138" y="288.6" text-anchor="middle">457</text><text x="178" y="288.6" text-anchor="middle">452</text><text x="247.3" y="288.6" text-anchor="middle">537</text><text x="278.8" y="288.6" text-anchor="middle">534</text><text x="310.3" y="288.6" text-anchor="middle">531</text><text x="341.8" y="288.6" text-anchor="middle">528</text><text x="373.3" y="288.6" text-anchor="middle">525</text><text x="421.6" y="290" text-anchor="middle">294</text><text x="451" y="290" text-anchor="middle">291</text><text x="480.4" y="290" text-anchor="middle">288</text><text x="509.7" y="290" text-anchor="middle">285</text><text x="539.1" y="290" text-anchor="middle">282</text><text x="568.5" y="290" text-anchor="middle">279</text></g>
<g font-family="Liberation Serif" font-weight="bold" font-size="14.5" fill="#111"><text x="43.3" y="304.8" textLength="141" lengthAdjust="spacing">Binding Energy (eV)</text><text x="235.6" y="304.6" textLength="142.4" lengthAdjust="spacing">Binding Energy (eV)</text><text x="425.4" y="307.6" textLength="141" lengthAdjust="spacing">Binding Energy (eV)</text></g>
<text x="301.5" y="332.5" font-family="Liberation Serif" font-size="13" text-anchor="middle" fill="#333">(a)</text>
<line x1="51" y1="707.5" x2="532" y2="707.5" stroke="#b8b8b8" stroke-width="2"/>
<line x1="51.4" y1="707.5" x2="51.4" y2="712" stroke="#b8b8b8" stroke-width="1.2"/>
<line x1="95.1" y1="707.5" x2="95.1" y2="712" stroke="#b8b8b8" stroke-width="1.2"/>
<line x1="138.8" y1="707.5" x2="138.8" y2="712" stroke="#b8b8b8" stroke-width="1.2"/>
<line x1="182.4" y1="707.5" x2="182.4" y2="712" stroke="#b8b8b8" stroke-width="1.2"/>
<line x1="226.1" y1="707.5" x2="226.1" y2="712" stroke="#b8b8b8" stroke-width="1.2"/>
<line x1="269.8" y1="707.5" x2="269.8" y2="712" stroke="#b8b8b8" stroke-width="1.2"/>
<line x1="313.5" y1="707.5" x2="313.5" y2="712" stroke="#b8b8b8" stroke-width="1.2"/>
<line x1="357.2" y1="707.5" x2="357.2" y2="712" stroke="#b8b8b8" stroke-width="1.2"/>
<line x1="400.8" y1="707.5" x2="400.8" y2="712" stroke="#b8b8b8" stroke-width="1.2"/>
<line x1="444.5" y1="707.5" x2="444.5" y2="712" stroke="#b8b8b8" stroke-width="1.2"/>
<line x1="488.2" y1="707.5" x2="488.2" y2="712" stroke="#b8b8b8" stroke-width="1.2"/>
<line x1="531.9" y1="707.5" x2="531.9" y2="712" stroke="#b8b8b8" stroke-width="1.2"/>
<line x1="52" y1="363.5" x2="52" y2="709" stroke="#000" stroke-width="3.5"/>
<line x1="45" y1="707.7" x2="52" y2="707.7" stroke="#000" stroke-width="3"/>
<line x1="45" y1="650.6" x2="52" y2="650.6" stroke="#000" stroke-width="3"/>
<line x1="45" y1="593.4" x2="52" y2="593.4" stroke="#000" stroke-width="3"/>
<line x1="45" y1="536.2" x2="52" y2="536.2" stroke="#000" stroke-width="3"/>
<line x1="45" y1="479.1" x2="52" y2="479.1" stroke="#000" stroke-width="3"/>
<line x1="45" y1="422" x2="52" y2="422" stroke="#000" stroke-width="3"/>
<line x1="45" y1="364.8" x2="52" y2="364.8" stroke="#000" stroke-width="3"/>
<line x1="532" y1="363.5" x2="532" y2="709" stroke="#20aa5e" stroke-width="3"/>
<line x1="532" y1="707.7" x2="539" y2="707.7" stroke="#20aa5e" stroke-width="3"/>
<line x1="532" y1="622" x2="539" y2="622" stroke="#20aa5e" stroke-width="3"/>
<line x1="532" y1="536.2" x2="539" y2="536.2" stroke="#20aa5e" stroke-width="3"/>
<line x1="532" y1="450.5" x2="539" y2="450.5" stroke="#20aa5e" stroke-width="3"/>
<line x1="532" y1="364.8" x2="539" y2="364.8" stroke="#20aa5e" stroke-width="3"/>
<g font-family="Liberation Sans" font-size="23.5" fill="#222"><text transform="translate(26,716) scale(0.78,1)" text-anchor="middle">0</text><text transform="translate(26,658.9) scale(0.78,1)" text-anchor="middle">2</text><text transform="translate(26,601.7) scale(0.78,1)" text-anchor="middle">4</text><text transform="translate(26,544.5) scale(0.78,1)" text-anchor="middle">6</text><text transform="translate(26,487.4) scale(0.78,1)" text-anchor="middle">8</text><text transform="translate(13.2,430.3) scale(0.78,1)" text-anchor="middle">1</text><text transform="translate(26,430.3) scale(0.78,1)" text-anchor="middle">0</text><text transform="translate(13.2,373.1) scale(0.78,1)" text-anchor="middle">1</text><text transform="translate(26,373.1) scale(0.78,1)" text-anchor="middle">2</text><text transform="translate(556.8,716) scale(0.78,1)" text-anchor="middle">0</text><text transform="translate(566.9,716) scale(0.78,1)" text-anchor="middle">.</text><text transform="translate(577,716) scale(0.78,1)" text-anchor="middle">0</text><text transform="translate(556.8,630.3) scale(0.78,1)" text-anchor="middle">0</text><text transform="translate(566.9,630.3) scale(0.78,1)" text-anchor="middle">.</text><text transform="translate(577,630.3) scale(0.78,1)" text-anchor="middle">5</text><text transform="translate(556.8,544.5) scale(0.78,1)" text-anchor="middle">1</text><text transform="translate(566.9,544.5) scale(0.78,1)" text-anchor="middle">.</text><text transform="translate(577,544.5) scale(0.78,1)" text-anchor="middle">0</text><text transform="translate(556.8,458.8) scale(0.78,1)" text-anchor="middle">1</text><text transform="translate(566.9,458.8) scale(0.78,1)" text-anchor="middle">.</text><text transform="translate(577,458.8) scale(0.78,1)" text-anchor="middle">5</text><text transform="translate(556.8,373.1) scale(0.78,1)" text-anchor="middle">2</text><text transform="translate(566.9,373.1) scale(0.78,1)" text-anchor="middle">.</text><text transform="translate(577,373.1) scale(0.78,1)" text-anchor="middle">0</text><text transform="translate(44.7,744) scale(0.78,1)" text-anchor="middle">4</text><text transform="translate(58.1,744) scale(0.78,1)" text-anchor="middle">0</text><text transform="translate(132.1,744) scale(0.78,1)" text-anchor="middle">6</text><text transform="translate(145.5,744) scale(0.78,1)" text-anchor="middle">0</text><text transform="translate(219.4,744) scale(0.78,1)" text-anchor="middle">8</text><text transform="translate(232.8,744) scale(0.78,1)" text-anchor="middle">0</text><text transform="translate(300.1,744) scale(0.78,1)" text-anchor="middle">1</text><text transform="translate(313.5,744) scale(0.78,1)" text-anchor="middle">0</text><text transform="translate(326.9,744) scale(0.78,1)" text-anchor="middle">0</text><text transform="translate(387.4,744) scale(0.78,1)" text-anchor="middle">1</text><text transform="translate(400.8,744) scale(0.78,1)" text-anchor="middle">2</text><text transform="translate(414.2,744) scale(0.78,1)" text-anchor="middle">0</text><text transform="translate(474.8,744) scale(0.78,1)" text-anchor="middle">1</text><text transform="translate(488.2,744) scale(0.78,1)" text-anchor="middle">4</text><text transform="translate(501.6,744) scale(0.78,1)" text-anchor="middle">0</text></g>
<polyline fill="none" stroke="#1ea0dc" stroke-width="1.5" points="95.1,566.3 269.8,571.7 357.2,590.8 444.5,600.3 488.2,619.4"/>
<circle cx="95.1" cy="566.3" r="10.2" fill="none" stroke="#1ea0dc" stroke-width="3.2"/>
<circle cx="269.8" cy="571.7" r="10.2" fill="none" stroke="#1ea0dc" stroke-width="3.2"/>
<circle cx="357.2" cy="590.8" r="10.2" fill="none" stroke="#1ea0dc" stroke-width="3.2"/>
<circle cx="444.5" cy="600.3" r="10.2" fill="none" stroke="#1ea0dc" stroke-width="3.2"/>
<circle cx="488.2" cy="619.4" r="10.2" fill="none" stroke="#1ea0dc" stroke-width="3.2"/>
<polyline fill="none" stroke="#1a1a1a" stroke-width="1.7" points="95.1,439.1 269.8,503.4 357.2,584.5 444.5,600.3 488.2,649.7"/>
<circle cx="95.1" cy="439.1" r="10.2" fill="none" stroke="#202020" stroke-width="1.6"/>
<circle cx="269.8" cy="503.4" r="10.2" fill="none" stroke="#202020" stroke-width="1.6"/>
<circle cx="357.2" cy="584.5" r="10.2" fill="none" stroke="#202020" stroke-width="1.6"/>
<circle cx="444.5" cy="600.3" r="10.2" fill="none" stroke="#202020" stroke-width="1.6"/>
<circle cx="488.2" cy="649.7" r="10.2" fill="none" stroke="#202020" stroke-width="1.6"/>
<polyline fill="none" stroke="#2a9f68" stroke-width="1.5" points="95.1,660.4 269.8,651.1 357.2,626.4 444.5,600.4 488.2,434.1"/>
<circle cx="95.1" cy="660.4" r="10.2" fill="none" stroke="#2a9f68" stroke-width="1.6"/>
<circle cx="269.8" cy="651.1" r="10.2" fill="none" stroke="#2a9f68" stroke-width="1.6"/>
<circle cx="357.2" cy="626.4" r="10.2" fill="none" stroke="#2a9f68" stroke-width="1.6"/>
<circle cx="444.5" cy="600.4" r="10.2" fill="none" stroke="#2a9f68" stroke-width="1.6"/>
<circle cx="488.2" cy="434.1" r="10.2" fill="none" stroke="#2a9f68" stroke-width="1.6"/>
<line x1="122.5" y1="461.3" x2="70" y2="461.3" stroke="#000" stroke-width="4.2"/>
<path d="M62.5 461.3 L77 455.5 L73 461.3 L77 467.3 Z" fill="#000"/>
<path d="M68.4 538.4 L130.6 550.6 L129.4 556.3 L67.6 542.6 Z" fill="#1ea0dc"/>
<path d="M58.5 540 L73.5 535.8 L69.5 541.3 L71.5 548.8 Z" fill="#1ea0dc"/>
<line x1="484.7" y1="524.5" x2="521" y2="524.5" stroke="#20aa5e" stroke-width="4.2"/>
<path d="M529.5 524.5 L515 518.7 L519 524.5 L515 530.3 Z" fill="#20aa5e"/>
<text x="136.1" y="500.4" font-family="Liberation Serif" font-size="22" font-weight="bold" fill="#111" textLength="12.6" lengthAdjust="spacingAndGlyphs">C</text>
<text x="149" y="505.5" font-family="Liberation Serif" font-size="13" font-weight="bold" fill="#111" textLength="13" lengthAdjust="spacingAndGlyphs">sp</text>
<text x="162.3" y="501" font-family="Liberation Serif" font-size="12.5" font-weight="bold" fill="#111" textLength="8.4" lengthAdjust="spacingAndGlyphs">3</text>
<text x="170.8" y="500.4" font-family="Liberation Serif" font-size="20" font-weight="normal" fill="#111" textLength="6.2" lengthAdjust="spacingAndGlyphs">/</text>
<text x="179.3" y="500.4" font-family="Liberation Serif" font-size="22" font-weight="bold" fill="#111" textLength="19.4" lengthAdjust="spacingAndGlyphs">Ti</text>
<text x="133.9" y="597.4" font-family="Liberation Serif" font-size="22" font-weight="bold" fill="#2098d4" textLength="14" lengthAdjust="spacingAndGlyphs">O</text>
<text x="148.4" y="601.8" font-family="Liberation Serif" font-size="14.5" font-weight="bold" fill="#2098d4" textLength="35.2" lengthAdjust="spacingAndGlyphs">530.9</text>
<text x="183.5" y="597.4" font-family="Liberation Serif" font-size="20" font-weight="normal" fill="#2098d4" textLength="5.6" lengthAdjust="spacingAndGlyphs">/</text>
<text x="188.9" y="597.4" font-family="Liberation Serif" font-size="22" font-weight="bold" fill="#2098d4" textLength="21.5" lengthAdjust="spacingAndGlyphs">Ti</text>
<text x="131" y="687.7" font-family="Liberation Serif" font-size="22" font-weight="bold" fill="#1f9552" textLength="41.6" lengthAdjust="spacingAndGlyphs">Ti/C</text>
<text x="179.8" y="687.2" font-family="Liberation Serif" font-size="19" font-weight="normal" fill="#6aaa80" textLength="11.8" lengthAdjust="spacingAndGlyphs">&#215;</text>
<text x="198.8" y="687.7" font-family="Liberation Serif" font-size="22" font-weight="bold" fill="#1f9552" textLength="21.3" lengthAdjust="spacingAndGlyphs">10</text>
<text x="223" y="772.4" font-family="Liberation Serif" font-weight="bold" font-size="21" fill="#000" textLength="132.8" lengthAdjust="spacing">Temperature</text>
<text stroke="#000" stroke-width="0.6" x="363.5" y="772.4" font-family="Liberation Serif" font-size="22" font-weight="normal" fill="#000" textLength="7" lengthAdjust="spacingAndGlyphs">(</text>
<circle cx="374.2" cy="762.6" r="2.7" fill="none" stroke="#111" stroke-width="1.4"/>
<text stroke="#000" stroke-width="0.6" x="381.8" y="772.4" font-family="Liberation Serif" font-size="20" font-weight="normal" fill="#000" textLength="12" lengthAdjust="spacingAndGlyphs">C</text>
<text stroke="#000" stroke-width="0.6" x="397.6" y="772.4" font-family="Liberation Serif" font-size="22" font-weight="normal" fill="#000" textLength="7.4" lengthAdjust="spacingAndGlyphs">)</text>
<text x="283.4" y="815.8" font-family="Liberation Sans" font-size="18" fill="#333" textLength="24" lengthAdjust="spacingAndGlyphs">(b)</text>
</svg></body></html>
